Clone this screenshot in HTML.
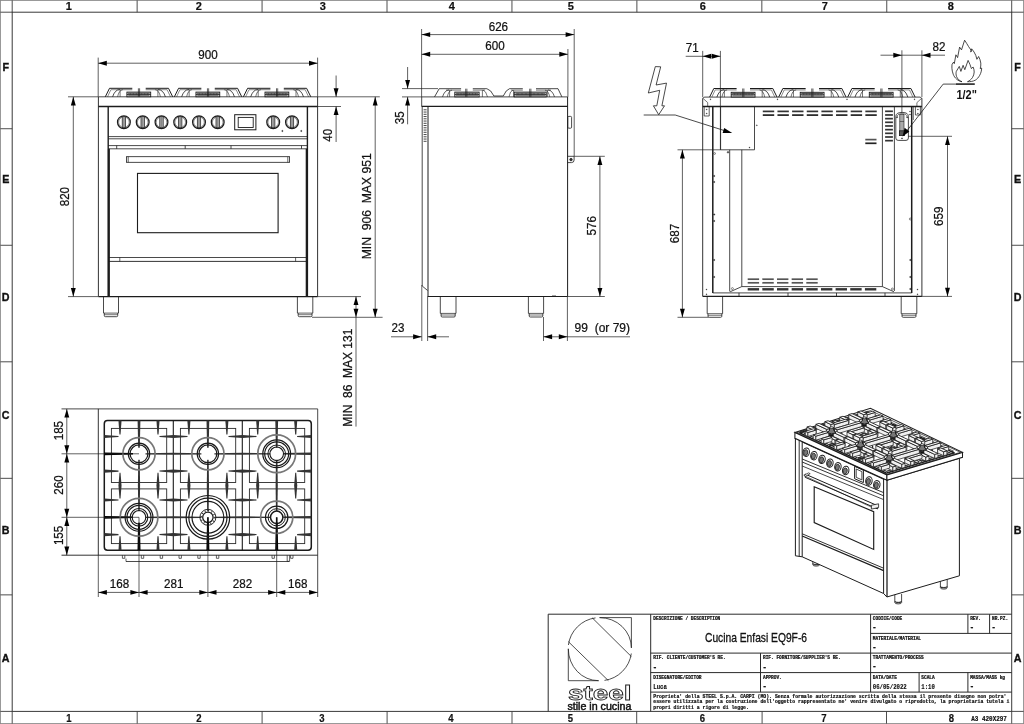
<!DOCTYPE html>
<html lang="it"><head><meta charset="utf-8"><title>Cucina Enfasi EQ9F-6</title>
<style>
html,body{margin:0;padding:0;background:#fff;overflow:hidden}
svg{display:block;will-change:transform}
.ts{font-family:"Liberation Sans",Arial,Helvetica,sans-serif;fill:#111}
.tm{font-family:"Liberation Mono","DejaVu Sans Mono",monospace;fill:#111}
.ns *{vector-effect:non-scaling-stroke}
</style></head><body>
<svg width="1024" height="724" viewBox="0 0 1024 724">
<rect x="0" y="0" width="1024" height="724" fill="#fff"/>
<rect x="0.4" y="0.4" width="1023.2" height="723.2" fill="none" stroke="#888" stroke-width="0.9"/>
<rect x="12.2" y="12.2" width="999.5" height="699.2" fill="none" stroke="#3a3a3a" stroke-width="1"/>
<line x1="137.14" y1="0.4" x2="137.14" y2="12.2" stroke="#3a3a3a" stroke-width="0.9"/>
<line x1="262.07" y1="0.4" x2="262.07" y2="12.2" stroke="#3a3a3a" stroke-width="0.9"/>
<line x1="387.01" y1="0.4" x2="387.01" y2="12.2" stroke="#3a3a3a" stroke-width="0.9"/>
<line x1="511.95" y1="0.4" x2="511.95" y2="12.2" stroke="#3a3a3a" stroke-width="0.9"/>
<line x1="636.89" y1="0.4" x2="636.89" y2="12.2" stroke="#3a3a3a" stroke-width="0.9"/>
<line x1="761.83" y1="0.4" x2="761.83" y2="12.2" stroke="#3a3a3a" stroke-width="0.9"/>
<line x1="886.76" y1="0.4" x2="886.76" y2="12.2" stroke="#3a3a3a" stroke-width="0.9"/>
<line x1="636.7" y1="711.4" x2="636.7" y2="723.6" stroke="#3a3a3a" stroke-width="0.9"/>
<line x1="762.1" y1="711.4" x2="762.1" y2="723.6" stroke="#3a3a3a" stroke-width="0.9"/>
<line x1="886.5" y1="711.4" x2="886.5" y2="723.6" stroke="#3a3a3a" stroke-width="0.9"/>
<line x1="137.2" y1="711.4" x2="137.2" y2="723.6" stroke="#3a3a3a" stroke-width="0.9"/>
<line x1="262.1" y1="711.4" x2="262.1" y2="723.6" stroke="#3a3a3a" stroke-width="0.9"/>
<line x1="387.1" y1="711.4" x2="387.1" y2="723.6" stroke="#3a3a3a" stroke-width="0.9"/>
<line x1="512" y1="711.4" x2="512" y2="723.6" stroke="#3a3a3a" stroke-width="0.9"/>
<line x1="0.4" y1="128.73" x2="12.2" y2="128.73" stroke="#3a3a3a" stroke-width="0.9"/>
<line x1="1011.7" y1="128.73" x2="1023.6" y2="128.73" stroke="#3a3a3a" stroke-width="0.9"/>
<line x1="0.4" y1="245.27" x2="12.2" y2="245.27" stroke="#3a3a3a" stroke-width="0.9"/>
<line x1="1011.7" y1="245.27" x2="1023.6" y2="245.27" stroke="#3a3a3a" stroke-width="0.9"/>
<line x1="0.4" y1="361.8" x2="12.2" y2="361.8" stroke="#3a3a3a" stroke-width="0.9"/>
<line x1="1011.7" y1="361.8" x2="1023.6" y2="361.8" stroke="#3a3a3a" stroke-width="0.9"/>
<line x1="0.4" y1="478.33" x2="12.2" y2="478.33" stroke="#3a3a3a" stroke-width="0.9"/>
<line x1="1011.7" y1="478.33" x2="1023.6" y2="478.33" stroke="#3a3a3a" stroke-width="0.9"/>
<line x1="0.4" y1="594.87" x2="12.2" y2="594.87" stroke="#3a3a3a" stroke-width="0.9"/>
<line x1="1011.7" y1="594.87" x2="1023.6" y2="594.87" stroke="#3a3a3a" stroke-width="0.9"/>
<line x1="0.4" y1="12.2" x2="12.2" y2="12.2" stroke="#3a3a3a" stroke-width="0.9"/>
<line x1="1011.7" y1="12.2" x2="1023.6" y2="12.2" stroke="#3a3a3a" stroke-width="0.9"/>
<line x1="0.4" y1="711.4" x2="12.2" y2="711.4" stroke="#3a3a3a" stroke-width="0.9"/>
<line x1="1011.7" y1="711.4" x2="1023.6" y2="711.4" stroke="#3a3a3a" stroke-width="0.9"/>
<line x1="12.2" y1="0.4" x2="12.2" y2="12.2" stroke="#3a3a3a" stroke-width="0.9"/>
<line x1="1011.7" y1="0.4" x2="1011.7" y2="12.2" stroke="#3a3a3a" stroke-width="0.9"/>
<line x1="12.2" y1="711.4" x2="12.2" y2="723.6" stroke="#3a3a3a" stroke-width="0.9"/>
<line x1="1011.7" y1="711.4" x2="1011.7" y2="723.6" stroke="#3a3a3a" stroke-width="0.9"/>
<text class="ts" x="68.8" y="10" font-size="11" text-anchor="middle" font-weight="bold" stroke="#111" stroke-width="0.2">1</text>
<text class="ts" x="198.8" y="10" font-size="11" text-anchor="middle" font-weight="bold" stroke="#111" stroke-width="0.2">2</text>
<text class="ts" x="322.8" y="10" font-size="11" text-anchor="middle" font-weight="bold" stroke="#111" stroke-width="0.2">3</text>
<text class="ts" x="451.8" y="10" font-size="11" text-anchor="middle" font-weight="bold" stroke="#111" stroke-width="0.2">4</text>
<text class="ts" x="570.8" y="10" font-size="11" text-anchor="middle" font-weight="bold" stroke="#111" stroke-width="0.2">5</text>
<text class="ts" x="702.8" y="10" font-size="11" text-anchor="middle" font-weight="bold" stroke="#111" stroke-width="0.2">6</text>
<text class="ts" x="824.8" y="10" font-size="11" text-anchor="middle" font-weight="bold" stroke="#111" stroke-width="0.2">7</text>
<text class="ts" x="950.8" y="10" font-size="11" text-anchor="middle" font-weight="bold" stroke="#111" stroke-width="0.2">8</text>
<text class="ts" x="69" y="721.7" font-size="10.3" text-anchor="middle" font-weight="bold" textLength="5.3" lengthAdjust="spacingAndGlyphs" stroke="#111" stroke-width="0.2">1</text>
<text class="ts" x="199" y="721.7" font-size="10.3" text-anchor="middle" font-weight="bold" textLength="5.3" lengthAdjust="spacingAndGlyphs" stroke="#111" stroke-width="0.2">2</text>
<text class="ts" x="322" y="721.7" font-size="10.3" text-anchor="middle" font-weight="bold" textLength="5.3" lengthAdjust="spacingAndGlyphs" stroke="#111" stroke-width="0.2">3</text>
<text class="ts" x="451" y="721.7" font-size="10.3" text-anchor="middle" font-weight="bold" textLength="5.3" lengthAdjust="spacingAndGlyphs" stroke="#111" stroke-width="0.2">4</text>
<text class="ts" x="570.3" y="721.7" font-size="10.3" text-anchor="middle" font-weight="bold" textLength="5.3" lengthAdjust="spacingAndGlyphs" stroke="#111" stroke-width="0.2">5</text>
<text class="ts" x="702.5" y="721.7" font-size="10.3" text-anchor="middle" font-weight="bold" textLength="5.3" lengthAdjust="spacingAndGlyphs" stroke="#111" stroke-width="0.2">6</text>
<text class="ts" x="824" y="721.7" font-size="10.3" text-anchor="middle" font-weight="bold" textLength="5.3" lengthAdjust="spacingAndGlyphs" stroke="#111" stroke-width="0.2">7</text>
<text class="ts" x="951.3" y="721.7" font-size="10.3" text-anchor="middle" font-weight="bold" textLength="5.3" lengthAdjust="spacingAndGlyphs" stroke="#111" stroke-width="0.2">8</text>
<text class="ts" x="5.7" y="70.7" font-size="10.7" text-anchor="middle" font-weight="bold" stroke="#111" stroke-width="0.35">F</text>
<text class="ts" x="1017.6" y="70.7" font-size="10.7" text-anchor="middle" font-weight="bold" stroke="#111" stroke-width="0.35">F</text>
<text class="ts" x="5.7" y="182.7" font-size="10.7" text-anchor="middle" font-weight="bold" stroke="#111" stroke-width="0.35">E</text>
<text class="ts" x="1017.6" y="182.7" font-size="10.7" text-anchor="middle" font-weight="bold" stroke="#111" stroke-width="0.35">E</text>
<text class="ts" x="5.7" y="300.7" font-size="10.7" text-anchor="middle" font-weight="bold" stroke="#111" stroke-width="0.35">D</text>
<text class="ts" x="1017.6" y="300.7" font-size="10.7" text-anchor="middle" font-weight="bold" stroke="#111" stroke-width="0.35">D</text>
<text class="ts" x="5.7" y="418.7" font-size="10.7" text-anchor="middle" font-weight="bold" stroke="#111" stroke-width="0.35">C</text>
<text class="ts" x="1017.6" y="418.7" font-size="10.7" text-anchor="middle" font-weight="bold" stroke="#111" stroke-width="0.35">C</text>
<text class="ts" x="5.7" y="533.7" font-size="10.7" text-anchor="middle" font-weight="bold" stroke="#111" stroke-width="0.35">B</text>
<text class="ts" x="1017.6" y="533.7" font-size="10.7" text-anchor="middle" font-weight="bold" stroke="#111" stroke-width="0.35">B</text>
<text class="ts" x="5.7" y="661.7" font-size="10.7" text-anchor="middle" font-weight="bold" stroke="#111" stroke-width="0.35">A</text>
<text class="ts" x="1017.6" y="661.7" font-size="10.7" text-anchor="middle" font-weight="bold" stroke="#111" stroke-width="0.35">A</text>
<text class="tm" x="971.3" y="721.2" font-size="6.6" font-weight="bold" textLength="35.6" lengthAdjust="spacingAndGlyphs" stroke="#111" stroke-width="0.2">A3 420X297</text>
<line x1="98.4" y1="96.8" x2="317.6" y2="96.8" stroke="#1c1c1c" stroke-width="0.8"/>
<line x1="98.4" y1="106.5" x2="317.6" y2="106.5" stroke="#1c1c1c" stroke-width="1.3"/>
<line x1="98.4" y1="96.8" x2="98.4" y2="296.6" stroke="#1c1c1c" stroke-width="0.9"/>
<line x1="317.6" y1="96.8" x2="317.6" y2="296.6" stroke="#1c1c1c" stroke-width="0.9"/>
<line x1="108.2" y1="106.5" x2="108.2" y2="296.6" stroke="#1c1c1c" stroke-width="1.4"/>
<line x1="307.4" y1="106.5" x2="307.4" y2="296.6" stroke="#1c1c1c" stroke-width="1.4"/>
<line x1="108.9" y1="148.8" x2="108.9" y2="296.6" stroke="#1c1c1c" stroke-width="2"/>
<line x1="306.7" y1="148.8" x2="306.7" y2="296.6" stroke="#1c1c1c" stroke-width="2"/>
<line x1="108.2" y1="136.6" x2="307.4" y2="136.6" stroke="#1c1c1c" stroke-width="0.8"/>
<line x1="108.2" y1="138.8" x2="307.4" y2="138.8" stroke="#1c1c1c" stroke-width="0.8"/>
<line x1="108.2" y1="145.6" x2="307.4" y2="145.6" stroke="#1c1c1c" stroke-width="0.8"/>
<line x1="108.2" y1="148.8" x2="307.4" y2="148.8" stroke="#1c1c1c" stroke-width="0.8"/>
<line x1="116.7" y1="145.6" x2="116.7" y2="148.8" stroke="#1c1c1c" stroke-width="0.8"/>
<line x1="185.2" y1="145.6" x2="185.2" y2="148.8" stroke="#1c1c1c" stroke-width="0.8"/>
<line x1="231" y1="145.6" x2="231" y2="148.8" stroke="#1c1c1c" stroke-width="0.8"/>
<line x1="301.5" y1="145.6" x2="301.5" y2="148.8" stroke="#1c1c1c" stroke-width="0.8"/>
<rect x="126.4" y="156.7" width="163.2" height="5.6" fill="none" stroke="#1c1c1c" stroke-width="0.8"/>
<line x1="128.2" y1="156.7" x2="128.2" y2="162.3" stroke="#1c1c1c" stroke-width="0.7"/>
<line x1="287.8" y1="156.7" x2="287.8" y2="162.3" stroke="#1c1c1c" stroke-width="0.7"/>
<rect x="137.5" y="173.4" width="140.6" height="59.3" fill="none" stroke="#1c1c1c" stroke-width="1.1"/>
<line x1="108.2" y1="257.5" x2="307.4" y2="257.5" stroke="#1c1c1c" stroke-width="0.8"/>
<line x1="108.2" y1="261.4" x2="307.4" y2="261.4" stroke="#1c1c1c" stroke-width="0.9"/>
<line x1="119.8" y1="257.5" x2="119.8" y2="261.4" stroke="#1c1c1c" stroke-width="0.7"/>
<line x1="295.6" y1="257.5" x2="295.6" y2="261.4" stroke="#1c1c1c" stroke-width="0.7"/>
<line x1="98.4" y1="296.6" x2="317.6" y2="296.6" stroke="#1c1c1c" stroke-width="1.2"/>
<line x1="103.5" y1="296.6" x2="103.5" y2="313.1" stroke="#1c1c1c" stroke-width="0.8"/>
<line x1="118.5" y1="296.6" x2="118.5" y2="313.1" stroke="#1c1c1c" stroke-width="0.8"/>
<line x1="103.5" y1="313.1" x2="118.5" y2="313.1" stroke="#1c1c1c" stroke-width="0.7"/>
<path d="M104.3 313.1 L104.3 315.7 Q104.3 316.7 105.5 316.7 L116.5 316.7 Q117.7 316.7 117.7 315.7 L117.7 313.1" fill="none" stroke="#1c1c1c" stroke-width="0.8"/>
<line x1="104.3" y1="314.7" x2="117.7" y2="314.7" stroke="#1c1c1c" stroke-width="0.6"/>
<line x1="297.4" y1="296.6" x2="297.4" y2="313.1" stroke="#1c1c1c" stroke-width="0.8"/>
<line x1="312.8" y1="296.6" x2="312.8" y2="313.1" stroke="#1c1c1c" stroke-width="0.8"/>
<line x1="297.4" y1="313.1" x2="312.8" y2="313.1" stroke="#1c1c1c" stroke-width="0.7"/>
<path d="M298.2 313.1 L298.2 315.7 Q298.2 316.7 299.4 316.7 L310.8 316.7 Q312 316.7 312 315.7 L312 313.1" fill="none" stroke="#1c1c1c" stroke-width="0.8"/>
<line x1="298.2" y1="314.7" x2="312" y2="314.7" stroke="#1c1c1c" stroke-width="0.6"/>
<circle cx="123.9" cy="122.2" r="6.4" fill="#fff" stroke="#1c1c1c" stroke-width="1.25"/>
<circle cx="123.9" cy="122.2" r="5.3" fill="none" stroke="#1c1c1c" stroke-width="0.5"/>
<rect x="122.2" y="116.7" width="3.4" height="11" fill="#aaa" stroke="#1c1c1c" stroke-width="0.7"/>
<line x1="123.9" y1="116.8" x2="123.9" y2="127.6" stroke="#666" stroke-width="0.5"/>
<circle cx="142.7" cy="122.2" r="6.4" fill="#fff" stroke="#1c1c1c" stroke-width="1.25"/>
<circle cx="142.7" cy="122.2" r="5.3" fill="none" stroke="#1c1c1c" stroke-width="0.5"/>
<rect x="141" y="116.7" width="3.4" height="11" fill="#aaa" stroke="#1c1c1c" stroke-width="0.7"/>
<line x1="142.7" y1="116.8" x2="142.7" y2="127.6" stroke="#666" stroke-width="0.5"/>
<circle cx="161.5" cy="122.2" r="6.4" fill="#fff" stroke="#1c1c1c" stroke-width="1.25"/>
<circle cx="161.5" cy="122.2" r="5.3" fill="none" stroke="#1c1c1c" stroke-width="0.5"/>
<rect x="159.8" y="116.7" width="3.4" height="11" fill="#aaa" stroke="#1c1c1c" stroke-width="0.7"/>
<line x1="161.5" y1="116.8" x2="161.5" y2="127.6" stroke="#666" stroke-width="0.5"/>
<circle cx="180.2" cy="122.2" r="6.4" fill="#fff" stroke="#1c1c1c" stroke-width="1.25"/>
<circle cx="180.2" cy="122.2" r="5.3" fill="none" stroke="#1c1c1c" stroke-width="0.5"/>
<rect x="178.5" y="116.7" width="3.4" height="11" fill="#aaa" stroke="#1c1c1c" stroke-width="0.7"/>
<line x1="180.2" y1="116.8" x2="180.2" y2="127.6" stroke="#666" stroke-width="0.5"/>
<circle cx="199" cy="122.2" r="6.4" fill="#fff" stroke="#1c1c1c" stroke-width="1.25"/>
<circle cx="199" cy="122.2" r="5.3" fill="none" stroke="#1c1c1c" stroke-width="0.5"/>
<rect x="197.3" y="116.7" width="3.4" height="11" fill="#aaa" stroke="#1c1c1c" stroke-width="0.7"/>
<line x1="199" y1="116.8" x2="199" y2="127.6" stroke="#666" stroke-width="0.5"/>
<circle cx="217.7" cy="122.2" r="6.4" fill="#fff" stroke="#1c1c1c" stroke-width="1.25"/>
<circle cx="217.7" cy="122.2" r="5.3" fill="none" stroke="#1c1c1c" stroke-width="0.5"/>
<rect x="216" y="116.7" width="3.4" height="11" fill="#aaa" stroke="#1c1c1c" stroke-width="0.7"/>
<line x1="217.7" y1="116.8" x2="217.7" y2="127.6" stroke="#666" stroke-width="0.5"/>
<circle cx="273.2" cy="122.2" r="6.4" fill="#fff" stroke="#1c1c1c" stroke-width="1.25"/>
<circle cx="273.2" cy="122.2" r="5.3" fill="none" stroke="#1c1c1c" stroke-width="0.5"/>
<rect x="271.5" y="116.7" width="3.4" height="11" fill="#aaa" stroke="#1c1c1c" stroke-width="0.7"/>
<line x1="273.2" y1="116.8" x2="273.2" y2="127.6" stroke="#666" stroke-width="0.5"/>
<circle cx="292" cy="122.2" r="6.4" fill="#fff" stroke="#1c1c1c" stroke-width="1.25"/>
<circle cx="292" cy="122.2" r="5.3" fill="none" stroke="#1c1c1c" stroke-width="0.5"/>
<rect x="290.3" y="116.7" width="3.4" height="11" fill="#aaa" stroke="#1c1c1c" stroke-width="0.7"/>
<line x1="292" y1="116.8" x2="292" y2="127.6" stroke="#666" stroke-width="0.5"/>
<rect x="234.7" y="114.7" width="21.2" height="15.1" fill="none" stroke="#1c1c1c" stroke-width="1"/>
<rect x="238.2" y="117.4" width="15" height="10.1" fill="none" stroke="#1c1c1c" stroke-width="0.9"/>
<circle cx="282.4" cy="131" r="0.7" fill="#333" stroke="#1c1c1c" stroke-width="0.3"/>
<circle cx="301.3" cy="131" r="0.7" fill="#333" stroke="#1c1c1c" stroke-width="0.3"/>
<path d="M105.3 96.8 L109.5 88.3 L132.3 88.3" fill="none" stroke="#1c1c1c" stroke-width="1"/>
<path d="M172.7 96.8 L168.5 88.3 L145.7 88.3" fill="none" stroke="#1c1c1c" stroke-width="1"/>
<path d="M107.5 96.8 L110.9 89.7 L118.3 89.7" fill="none" stroke="#1c1c1c" stroke-width="0.5"/>
<path d="M170.5 96.8 L167.1 89.7 L159.7 89.7" fill="none" stroke="#1c1c1c" stroke-width="0.5"/>
<line x1="118.3" y1="89.7" x2="132.3" y2="89.7" stroke="#1c1c1c" stroke-width="0.6"/>
<line x1="145.7" y1="89.7" x2="159.7" y2="89.7" stroke="#1c1c1c" stroke-width="0.6"/>
<path d="M119.8 89.5 Q114.8 89.8 112.6 96.8" fill="none" stroke="#1c1c1c" stroke-width="0.8"/>
<path d="M122.8 89.7 Q118.8 90.3 117.6 96.8" fill="none" stroke="#1c1c1c" stroke-width="0.6"/>
<path d="M158.2 89.5 Q163.2 89.8 165.4 96.8" fill="none" stroke="#1c1c1c" stroke-width="0.8"/>
<path d="M155.2 89.7 Q159.2 90.3 160.4 96.8" fill="none" stroke="#1c1c1c" stroke-width="0.6"/>
<line x1="120.1" y1="89.7" x2="120.1" y2="96.8" stroke="#1c1c1c" stroke-width="0.6"/>
<line x1="157.9" y1="89.7" x2="157.9" y2="96.8" stroke="#1c1c1c" stroke-width="0.6"/>
<rect x="126.9" y="92.1" width="23.8" height="4.7" fill="#d8d8d8" stroke="#1c1c1c" stroke-width="0.9"/>
<line x1="127.9" y1="93.3" x2="149.7" y2="93.3" stroke="#1c1c1c" stroke-width="0.7"/>
<line x1="126.9" y1="94.5" x2="150.7" y2="94.5" stroke="#1c1c1c" stroke-width="0.8"/>
<line x1="128.3" y1="95.7" x2="149.3" y2="95.7" stroke="#1c1c1c" stroke-width="0.6"/>
<line x1="130.3" y1="93.3" x2="130.3" y2="94.5" stroke="#1c1c1c" stroke-width="0.5"/>
<line x1="133.3" y1="93.3" x2="133.3" y2="94.5" stroke="#1c1c1c" stroke-width="0.5"/>
<line x1="136.3" y1="93.3" x2="136.3" y2="94.5" stroke="#1c1c1c" stroke-width="0.5"/>
<line x1="141.7" y1="93.3" x2="141.7" y2="94.5" stroke="#1c1c1c" stroke-width="0.5"/>
<line x1="144.7" y1="93.3" x2="144.7" y2="94.5" stroke="#1c1c1c" stroke-width="0.5"/>
<line x1="147.7" y1="93.3" x2="147.7" y2="94.5" stroke="#1c1c1c" stroke-width="0.5"/>
<line x1="138.4" y1="88.3" x2="138.4" y2="96.8" stroke="#1c1c1c" stroke-width="0.7"/>
<line x1="139.6" y1="88.3" x2="139.6" y2="96.8" stroke="#1c1c1c" stroke-width="0.7"/>
<path d="M174.35 96.8 L178.55 88.3 L201.35 88.3" fill="none" stroke="#1c1c1c" stroke-width="1"/>
<path d="M241.75 96.8 L237.55 88.3 L214.75 88.3" fill="none" stroke="#1c1c1c" stroke-width="1"/>
<path d="M176.55 96.8 L179.95 89.7 L187.35 89.7" fill="none" stroke="#1c1c1c" stroke-width="0.5"/>
<path d="M239.55 96.8 L236.15 89.7 L228.75 89.7" fill="none" stroke="#1c1c1c" stroke-width="0.5"/>
<line x1="187.35" y1="89.7" x2="201.35" y2="89.7" stroke="#1c1c1c" stroke-width="0.6"/>
<line x1="214.75" y1="89.7" x2="228.75" y2="89.7" stroke="#1c1c1c" stroke-width="0.6"/>
<path d="M188.85 89.5 Q183.85 89.8 181.65 96.8" fill="none" stroke="#1c1c1c" stroke-width="0.8"/>
<path d="M191.85 89.7 Q187.85 90.3 186.65 96.8" fill="none" stroke="#1c1c1c" stroke-width="0.6"/>
<path d="M227.25 89.5 Q232.25 89.8 234.45 96.8" fill="none" stroke="#1c1c1c" stroke-width="0.8"/>
<path d="M224.25 89.7 Q228.25 90.3 229.45 96.8" fill="none" stroke="#1c1c1c" stroke-width="0.6"/>
<line x1="189.15" y1="89.7" x2="189.15" y2="96.8" stroke="#1c1c1c" stroke-width="0.6"/>
<line x1="226.95" y1="89.7" x2="226.95" y2="96.8" stroke="#1c1c1c" stroke-width="0.6"/>
<rect x="195.95" y="92.1" width="23.8" height="4.7" fill="#d8d8d8" stroke="#1c1c1c" stroke-width="0.9"/>
<line x1="196.95" y1="93.3" x2="218.75" y2="93.3" stroke="#1c1c1c" stroke-width="0.7"/>
<line x1="195.95" y1="94.5" x2="219.75" y2="94.5" stroke="#1c1c1c" stroke-width="0.8"/>
<line x1="197.35" y1="95.7" x2="218.35" y2="95.7" stroke="#1c1c1c" stroke-width="0.6"/>
<line x1="199.35" y1="93.3" x2="199.35" y2="94.5" stroke="#1c1c1c" stroke-width="0.5"/>
<line x1="202.35" y1="93.3" x2="202.35" y2="94.5" stroke="#1c1c1c" stroke-width="0.5"/>
<line x1="205.35" y1="93.3" x2="205.35" y2="94.5" stroke="#1c1c1c" stroke-width="0.5"/>
<line x1="210.75" y1="93.3" x2="210.75" y2="94.5" stroke="#1c1c1c" stroke-width="0.5"/>
<line x1="213.75" y1="93.3" x2="213.75" y2="94.5" stroke="#1c1c1c" stroke-width="0.5"/>
<line x1="216.75" y1="93.3" x2="216.75" y2="94.5" stroke="#1c1c1c" stroke-width="0.5"/>
<line x1="207.45" y1="88.3" x2="207.45" y2="96.8" stroke="#1c1c1c" stroke-width="0.7"/>
<line x1="208.65" y1="88.3" x2="208.65" y2="96.8" stroke="#1c1c1c" stroke-width="0.7"/>
<path d="M243.4 96.8 L247.6 88.3 L270.4 88.3" fill="none" stroke="#1c1c1c" stroke-width="1"/>
<path d="M310.8 96.8 L306.6 88.3 L283.8 88.3" fill="none" stroke="#1c1c1c" stroke-width="1"/>
<path d="M245.6 96.8 L249 89.7 L256.4 89.7" fill="none" stroke="#1c1c1c" stroke-width="0.5"/>
<path d="M308.6 96.8 L305.2 89.7 L297.8 89.7" fill="none" stroke="#1c1c1c" stroke-width="0.5"/>
<line x1="256.4" y1="89.7" x2="270.4" y2="89.7" stroke="#1c1c1c" stroke-width="0.6"/>
<line x1="283.8" y1="89.7" x2="297.8" y2="89.7" stroke="#1c1c1c" stroke-width="0.6"/>
<path d="M257.9 89.5 Q252.9 89.8 250.7 96.8" fill="none" stroke="#1c1c1c" stroke-width="0.8"/>
<path d="M260.9 89.7 Q256.9 90.3 255.7 96.8" fill="none" stroke="#1c1c1c" stroke-width="0.6"/>
<path d="M296.3 89.5 Q301.3 89.8 303.5 96.8" fill="none" stroke="#1c1c1c" stroke-width="0.8"/>
<path d="M293.3 89.7 Q297.3 90.3 298.5 96.8" fill="none" stroke="#1c1c1c" stroke-width="0.6"/>
<line x1="258.2" y1="89.7" x2="258.2" y2="96.8" stroke="#1c1c1c" stroke-width="0.6"/>
<line x1="296" y1="89.7" x2="296" y2="96.8" stroke="#1c1c1c" stroke-width="0.6"/>
<rect x="265" y="92.1" width="23.8" height="4.7" fill="#d8d8d8" stroke="#1c1c1c" stroke-width="0.9"/>
<line x1="266" y1="93.3" x2="287.8" y2="93.3" stroke="#1c1c1c" stroke-width="0.7"/>
<line x1="265" y1="94.5" x2="288.8" y2="94.5" stroke="#1c1c1c" stroke-width="0.8"/>
<line x1="266.4" y1="95.7" x2="287.4" y2="95.7" stroke="#1c1c1c" stroke-width="0.6"/>
<line x1="268.4" y1="93.3" x2="268.4" y2="94.5" stroke="#1c1c1c" stroke-width="0.5"/>
<line x1="271.4" y1="93.3" x2="271.4" y2="94.5" stroke="#1c1c1c" stroke-width="0.5"/>
<line x1="274.4" y1="93.3" x2="274.4" y2="94.5" stroke="#1c1c1c" stroke-width="0.5"/>
<line x1="279.8" y1="93.3" x2="279.8" y2="94.5" stroke="#1c1c1c" stroke-width="0.5"/>
<line x1="282.8" y1="93.3" x2="282.8" y2="94.5" stroke="#1c1c1c" stroke-width="0.5"/>
<line x1="285.8" y1="93.3" x2="285.8" y2="94.5" stroke="#1c1c1c" stroke-width="0.5"/>
<line x1="276.5" y1="88.3" x2="276.5" y2="96.8" stroke="#1c1c1c" stroke-width="0.7"/>
<line x1="277.7" y1="88.3" x2="277.7" y2="96.8" stroke="#1c1c1c" stroke-width="0.7"/>
<line x1="98.2" y1="57.6" x2="98.2" y2="96.8" stroke="#1c1c1c" stroke-width="0.7"/>
<line x1="317.6" y1="57.6" x2="317.6" y2="96.8" stroke="#1c1c1c" stroke-width="0.7"/>
<line x1="98.2" y1="63.2" x2="317.6" y2="63.2" stroke="#1c1c1c" stroke-width="0.7"/>
<polygon points="98.2,63.2 106.8,60.75 106.8,65.65" fill="#000"/>
<polygon points="317.6,63.2 309,60.75 309,65.65" fill="#000"/>
<text class="ts" transform="translate(208 59.3) scale(0.9 1)" font-size="12.9" text-anchor="middle" stroke="#111" stroke-width="0.25">900</text>
<line x1="68" y1="96.8" x2="98.2" y2="96.8" stroke="#1c1c1c" stroke-width="0.7"/>
<line x1="68" y1="296.6" x2="98.2" y2="296.6" stroke="#1c1c1c" stroke-width="0.7"/>
<line x1="73.3" y1="96.8" x2="73.3" y2="296.6" stroke="#1c1c1c" stroke-width="0.7"/>
<polygon points="73.3,96.8 70.85,105.4 75.75,105.4" fill="#000"/>
<polygon points="73.3,296.6 70.85,288 75.75,288" fill="#000"/>
<text class="ts" transform="translate(69.4 196.6) rotate(-90) scale(0.9 1)" font-size="12.9" text-anchor="middle" stroke="#111" stroke-width="0.25">820</text>
<line x1="317.6" y1="96.8" x2="379.8" y2="96.8" stroke="#1c1c1c" stroke-width="0.7"/>
<line x1="317.6" y1="106.5" x2="341" y2="106.5" stroke="#1c1c1c" stroke-width="0.7"/>
<line x1="336.1" y1="75.5" x2="336.1" y2="96.8" stroke="#1c1c1c" stroke-width="0.7"/>
<line x1="336.1" y1="106.5" x2="336.1" y2="142" stroke="#1c1c1c" stroke-width="0.7"/>
<polygon points="336.1,96.8 333.65,88.2 338.55,88.2" fill="#000"/>
<polygon points="336.1,106.5 333.65,115.1 338.55,115.1" fill="#000"/>
<text class="ts" transform="translate(332.3 135.3) rotate(-90) scale(0.9 1)" font-size="12.9" text-anchor="middle" stroke="#111" stroke-width="0.25">40</text>
<line x1="375.2" y1="96.8" x2="375.2" y2="317.3" stroke="#1c1c1c" stroke-width="0.7"/>
<polygon points="375.2,96.8 372.75,105.4 377.65,105.4" fill="#000"/>
<polygon points="375.2,317.3 372.75,308.7 377.65,308.7" fill="#000"/>
<text class="ts" transform="translate(371 206.3) rotate(-90) scale(0.9 1)" font-size="12.9" text-anchor="middle" textLength="117.78" lengthAdjust="spacingAndGlyphs" stroke="#111" stroke-width="0.25">MIN&#160; 906&#160; MAX 951</text>
<line x1="317.6" y1="296.6" x2="361" y2="296.6" stroke="#1c1c1c" stroke-width="0.7"/>
<line x1="312" y1="317.3" x2="382.6" y2="317.3" stroke="#1c1c1c" stroke-width="0.7"/>
<line x1="356" y1="296.4" x2="356" y2="426.6" stroke="#1c1c1c" stroke-width="0.7"/>
<polygon points="356,296.4 353.55,305 358.45,305" fill="#000"/>
<polygon points="356,317.3 353.55,308.7 358.45,308.7" fill="#000"/>
<text class="ts" transform="translate(352.1 377.7) rotate(-90) scale(0.9 1)" font-size="12.9" text-anchor="middle" textLength="108.89" lengthAdjust="spacingAndGlyphs" stroke="#111" stroke-width="0.25">MIN&#160; 86&#160; MAX 131</text>
<line x1="421.6" y1="96.9" x2="567.6" y2="96.9" stroke="#1c1c1c" stroke-width="0.8"/>
<line x1="421.6" y1="106.4" x2="567.6" y2="106.4" stroke="#1c1c1c" stroke-width="1.3"/>
<line x1="421.7" y1="96.9" x2="421.7" y2="106.4" stroke="#1c1c1c" stroke-width="0.8"/>
<line x1="567.6" y1="96.9" x2="567.6" y2="296.5" stroke="#1c1c1c" stroke-width="1"/>
<path d="M422.2 106.4 L422.2 286 L427.6 290.5" fill="none" stroke="#1c1c1c" stroke-width="0.8"/>
<line x1="428" y1="106.4" x2="428" y2="296.5" stroke="#1c1c1c" stroke-width="1"/>
<line x1="427.6" y1="296.5" x2="567.6" y2="296.5" stroke="#1c1c1c" stroke-width="1"/>
<line x1="423.6" y1="109.8" x2="426.6" y2="109.8" stroke="#333" stroke-width="0.9"/>
<line x1="423.6" y1="112.05" x2="426.6" y2="112.05" stroke="#333" stroke-width="0.9"/>
<line x1="423.6" y1="114.3" x2="426.6" y2="114.3" stroke="#333" stroke-width="0.9"/>
<line x1="423.6" y1="116.55" x2="426.6" y2="116.55" stroke="#333" stroke-width="0.9"/>
<line x1="423.6" y1="118.8" x2="426.6" y2="118.8" stroke="#333" stroke-width="0.9"/>
<line x1="423.6" y1="121.05" x2="426.6" y2="121.05" stroke="#333" stroke-width="0.9"/>
<line x1="423.6" y1="123.3" x2="426.6" y2="123.3" stroke="#333" stroke-width="0.9"/>
<line x1="423.6" y1="125.55" x2="426.6" y2="125.55" stroke="#333" stroke-width="0.9"/>
<line x1="423.6" y1="127.8" x2="426.6" y2="127.8" stroke="#333" stroke-width="0.9"/>
<line x1="423.6" y1="130.05" x2="426.6" y2="130.05" stroke="#333" stroke-width="0.9"/>
<line x1="423.6" y1="132.3" x2="426.6" y2="132.3" stroke="#333" stroke-width="0.9"/>
<line x1="423.6" y1="134.55" x2="426.6" y2="134.55" stroke="#333" stroke-width="0.9"/>
<line x1="423.6" y1="136.8" x2="426.6" y2="136.8" stroke="#333" stroke-width="0.9"/>
<line x1="423.6" y1="139.05" x2="426.6" y2="139.05" stroke="#333" stroke-width="0.9"/>
<line x1="423.6" y1="141.3" x2="426.6" y2="141.3" stroke="#333" stroke-width="0.9"/>
<rect x="567.8" y="116.4" width="3.8" height="11.8" rx="1" fill="none" stroke="#1c1c1c" stroke-width="0.8"/>
<path d="M567.6 156.3 L574.1 156.3 L574.1 160 Q574.1 162.6 571.5 162.6 L567.6 162.6" fill="none" stroke="#1c1c1c" stroke-width="0.8"/>
<circle cx="571" cy="159.6" r="1.3" fill="#333" stroke="#1c1c1c" stroke-width="0.6"/>
<line x1="440.3" y1="296.5" x2="440.3" y2="313.4" stroke="#1c1c1c" stroke-width="0.8"/>
<line x1="456" y1="296.5" x2="456" y2="313.4" stroke="#1c1c1c" stroke-width="0.8"/>
<line x1="440.3" y1="313.4" x2="456" y2="313.4" stroke="#1c1c1c" stroke-width="0.7"/>
<path d="M441.1 313.4 L441.1 316 Q441.1 317 442.3 317 L454 317 Q455.2 317 455.2 316 L455.2 313.4" fill="none" stroke="#1c1c1c" stroke-width="0.8"/>
<line x1="441.1" y1="315" x2="455.2" y2="315" stroke="#1c1c1c" stroke-width="0.6"/>
<line x1="528.4" y1="296.5" x2="528.4" y2="313.4" stroke="#1c1c1c" stroke-width="0.8"/>
<line x1="543.6" y1="296.5" x2="543.6" y2="313.4" stroke="#1c1c1c" stroke-width="0.8"/>
<line x1="528.4" y1="313.4" x2="543.6" y2="313.4" stroke="#1c1c1c" stroke-width="0.7"/>
<path d="M529.2 313.4 L529.2 316 Q529.2 317 530.4 317 L541.6 317 Q542.8 317 542.8 316 L542.8 313.4" fill="none" stroke="#1c1c1c" stroke-width="0.8"/>
<line x1="529.2" y1="315" x2="542.8" y2="315" stroke="#1c1c1c" stroke-width="0.6"/>
<line x1="552" y1="296" x2="556" y2="296" stroke="#1c1c1c" stroke-width="0.8"/>
<path d="M434.5 96.9 L439.2 88.7 L461.1 88.7" fill="none" stroke="#1c1c1c" stroke-width="0.8"/>
<line x1="446" y1="90.1" x2="461.1" y2="90.1" stroke="#1c1c1c" stroke-width="0.6"/>
<path d="M449 89.9 Q444.5 90.3 442.5 96.9" fill="none" stroke="#1c1c1c" stroke-width="0.7"/>
<path d="M452 90.10000000000001 Q448.5 90.7 447.3 96.9" fill="none" stroke="#1c1c1c" stroke-width="0.6"/>
<line x1="449.6" y1="90.1" x2="449.6" y2="96.9" stroke="#1c1c1c" stroke-width="0.6"/>
<rect x="454.8" y="92.1" width="24.3" height="4.8" fill="#d8d8d8" stroke="#1c1c1c" stroke-width="0.9"/>
<line x1="456" y1="93.3" x2="478" y2="93.3" stroke="#1c1c1c" stroke-width="0.7"/>
<line x1="454.8" y1="94.5" x2="479.1" y2="94.5" stroke="#1c1c1c" stroke-width="0.8"/>
<line x1="456" y1="95.7" x2="478" y2="95.7" stroke="#1c1c1c" stroke-width="0.6"/>
<line x1="458" y1="93.3" x2="458" y2="94.5" stroke="#1c1c1c" stroke-width="0.5"/>
<line x1="461" y1="93.3" x2="461" y2="94.5" stroke="#1c1c1c" stroke-width="0.5"/>
<line x1="464" y1="93.3" x2="464" y2="94.5" stroke="#1c1c1c" stroke-width="0.5"/>
<line x1="469.5" y1="93.3" x2="469.5" y2="94.5" stroke="#1c1c1c" stroke-width="0.5"/>
<line x1="472.5" y1="93.3" x2="472.5" y2="94.5" stroke="#1c1c1c" stroke-width="0.5"/>
<line x1="475.5" y1="93.3" x2="475.5" y2="94.5" stroke="#1c1c1c" stroke-width="0.5"/>
<line x1="465.7" y1="88.7" x2="465.7" y2="96.9" stroke="#1c1c1c" stroke-width="0.7"/>
<line x1="466.9" y1="88.7" x2="466.9" y2="96.9" stroke="#1c1c1c" stroke-width="0.7"/>
<line x1="472.8" y1="88.7" x2="486.9" y2="88.7" stroke="#1c1c1c" stroke-width="0.8"/>
<line x1="472.8" y1="90.1" x2="485" y2="90.1" stroke="#1c1c1c" stroke-width="0.6"/>
<path d="M486.9 88.7 Q491 89.7 493.9 96.0 L503.3 96.0 Q506 89.7 509.5 88.7 L522.8 88.7" fill="none" stroke="#1c1c1c" stroke-width="0.8"/>
<path d="M483 90.10000000000001 Q486 90.7 487.5 96.9" fill="none" stroke="#1c1c1c" stroke-width="0.6"/>
<line x1="482.4" y1="90.1" x2="482.4" y2="96.9" stroke="#1c1c1c" stroke-width="0.6"/>
<line x1="511" y1="90.1" x2="522.8" y2="90.1" stroke="#1c1c1c" stroke-width="0.6"/>
<path d="M513 90.10000000000001 Q510 90.7 509 96.9" fill="none" stroke="#1c1c1c" stroke-width="0.6"/>
<line x1="513.6" y1="90.1" x2="513.6" y2="96.9" stroke="#1c1c1c" stroke-width="0.6"/>
<rect x="514.2" y="92.1" width="32" height="4.8" fill="#d8d8d8" stroke="#1c1c1c" stroke-width="0.9"/>
<line x1="515.5" y1="93.3" x2="545" y2="93.3" stroke="#1c1c1c" stroke-width="0.7"/>
<line x1="514.2" y1="94.5" x2="546.2" y2="94.5" stroke="#1c1c1c" stroke-width="0.8"/>
<line x1="515.5" y1="95.7" x2="545" y2="95.7" stroke="#1c1c1c" stroke-width="0.6"/>
<line x1="518" y1="93.3" x2="518" y2="94.5" stroke="#1c1c1c" stroke-width="0.5"/>
<line x1="522" y1="93.3" x2="522" y2="94.5" stroke="#1c1c1c" stroke-width="0.5"/>
<line x1="526" y1="93.3" x2="526" y2="94.5" stroke="#1c1c1c" stroke-width="0.5"/>
<line x1="534" y1="93.3" x2="534" y2="94.5" stroke="#1c1c1c" stroke-width="0.5"/>
<line x1="538" y1="93.3" x2="538" y2="94.5" stroke="#1c1c1c" stroke-width="0.5"/>
<line x1="542" y1="93.3" x2="542" y2="94.5" stroke="#1c1c1c" stroke-width="0.5"/>
<line x1="529.7" y1="88.7" x2="529.7" y2="96.9" stroke="#1c1c1c" stroke-width="0.7"/>
<line x1="530.9" y1="88.7" x2="530.9" y2="96.9" stroke="#1c1c1c" stroke-width="0.7"/>
<path d="M561.9 96.9 L558 88.7 L536 88.7" fill="none" stroke="#1c1c1c" stroke-width="0.8"/>
<line x1="536" y1="90.1" x2="551" y2="90.1" stroke="#1c1c1c" stroke-width="0.6"/>
<path d="M548 89.9 Q552.5 90.3 554.5 96.9" fill="none" stroke="#1c1c1c" stroke-width="0.7"/>
<path d="M545 90.10000000000001 Q548.5 90.7 549.7 96.9" fill="none" stroke="#1c1c1c" stroke-width="0.6"/>
<line x1="547.4" y1="90.1" x2="547.4" y2="96.9" stroke="#1c1c1c" stroke-width="0.6"/>
<line x1="421.6" y1="29" x2="421.6" y2="96.9" stroke="#1c1c1c" stroke-width="0.7"/>
<line x1="574.2" y1="29" x2="574.2" y2="156.3" stroke="#1c1c1c" stroke-width="0.7"/>
<line x1="421.6" y1="34.6" x2="574.2" y2="34.6" stroke="#1c1c1c" stroke-width="0.7"/>
<polygon points="421.6,34.6 430.2,32.15 430.2,37.05" fill="#000"/>
<polygon points="574.2,34.6 565.6,32.15 565.6,37.05" fill="#000"/>
<text class="ts" transform="translate(498.4 30.6) scale(0.9 1)" font-size="12.9" text-anchor="middle" stroke="#111" stroke-width="0.25">626</text>
<line x1="567.9" y1="49" x2="567.9" y2="96.9" stroke="#1c1c1c" stroke-width="0.7"/>
<line x1="421.6" y1="54.3" x2="567.9" y2="54.3" stroke="#1c1c1c" stroke-width="0.7"/>
<polygon points="421.6,54.3 430.2,51.85 430.2,56.75" fill="#000"/>
<polygon points="567.9,54.3 559.3,51.85 559.3,56.75" fill="#000"/>
<text class="ts" transform="translate(495 50.2) scale(0.9 1)" font-size="12.9" text-anchor="middle" stroke="#111" stroke-width="0.25">600</text>
<line x1="402" y1="88.6" x2="438" y2="88.6" stroke="#1c1c1c" stroke-width="0.7"/>
<line x1="402" y1="96.9" x2="421.6" y2="96.9" stroke="#1c1c1c" stroke-width="0.7"/>
<line x1="407.6" y1="67" x2="407.6" y2="88.6" stroke="#1c1c1c" stroke-width="0.7"/>
<line x1="407.6" y1="96.9" x2="407.6" y2="124.3" stroke="#1c1c1c" stroke-width="0.7"/>
<polygon points="407.6,88.6 405.15,80 410.05,80" fill="#000"/>
<polygon points="407.6,96.9 405.15,105.5 410.05,105.5" fill="#000"/>
<text class="ts" transform="translate(403.6 117.8) rotate(-90) scale(0.9 1)" font-size="12.9" text-anchor="middle" stroke="#111" stroke-width="0.25">35</text>
<line x1="421.8" y1="285" x2="421.8" y2="341" stroke="#1c1c1c" stroke-width="0.7"/>
<line x1="427.6" y1="296.5" x2="427.6" y2="341" stroke="#1c1c1c" stroke-width="0.7"/>
<line x1="391" y1="336.8" x2="421.7" y2="336.8" stroke="#1c1c1c" stroke-width="0.7"/>
<line x1="427.6" y1="336.8" x2="449" y2="336.8" stroke="#1c1c1c" stroke-width="0.7"/>
<polygon points="421.7,336.8 413.1,334.35 413.1,339.25" fill="#000"/>
<polygon points="427.6,336.8 436.2,334.35 436.2,339.25" fill="#000"/>
<text class="ts" transform="translate(398 332.4) scale(0.9 1)" font-size="12.9" text-anchor="middle" stroke="#111" stroke-width="0.25">23</text>
<line x1="543.5" y1="317" x2="543.5" y2="341" stroke="#1c1c1c" stroke-width="0.7"/>
<line x1="567.4" y1="296.5" x2="567.4" y2="341" stroke="#1c1c1c" stroke-width="0.7"/>
<line x1="543.5" y1="336.8" x2="630" y2="336.8" stroke="#1c1c1c" stroke-width="0.7"/>
<polygon points="543.5,336.8 552.1,334.35 552.1,339.25" fill="#000"/>
<polygon points="567.4,336.8 558.8,334.35 558.8,339.25" fill="#000"/>
<text class="ts" transform="translate(574.6 332.4) scale(0.9 1)" font-size="12.9" textLength="61.56" lengthAdjust="spacingAndGlyphs" stroke="#111" stroke-width="0.25">99&#160; (or 79)</text>
<line x1="574.1" y1="156.3" x2="604.8" y2="156.3" stroke="#1c1c1c" stroke-width="0.7"/>
<line x1="567.6" y1="296.5" x2="604.8" y2="296.5" stroke="#1c1c1c" stroke-width="0.7"/>
<line x1="599.9" y1="156.3" x2="599.9" y2="296.5" stroke="#1c1c1c" stroke-width="0.7"/>
<polygon points="599.9,156.3 597.45,164.9 602.35,164.9" fill="#000"/>
<polygon points="599.9,296.5 597.45,287.9 602.35,287.9" fill="#000"/>
<text class="ts" transform="translate(596.3 225.8) rotate(-90) scale(0.9 1)" font-size="12.9" text-anchor="middle" stroke="#111" stroke-width="0.25">576</text>
<line x1="704.2" y1="97.1" x2="920.4" y2="97.1" stroke="#1c1c1c" stroke-width="0.8"/>
<line x1="702.7" y1="106.5" x2="921.9" y2="106.5" stroke="#1c1c1c" stroke-width="1.3"/>
<path d="M702.7 296.4 L702.7 98.6 L704.2 97.1" fill="none" stroke="#1c1c1c" stroke-width="0.9"/>
<path d="M921.9 296.4 L921.9 98.6 L920.4 97.1" fill="none" stroke="#1c1c1c" stroke-width="0.9"/>
<path d="M702.7 98.1 L707.7 102.6 L707.7 106.5" fill="none" stroke="#1c1c1c" stroke-width="0.6"/>
<path d="M921.9 98.1 L916.9 102.6 L916.9 106.5" fill="none" stroke="#1c1c1c" stroke-width="0.6"/>
<path d="M704.2 106.5 L704.2 116 L709.2 116 L709.2 106.5" fill="none" stroke="#1c1c1c" stroke-width="0.7"/>
<path d="M920.4 106.5 L920.4 115 L915.4 115 L915.4 106.5" fill="none" stroke="#1c1c1c" stroke-width="0.7"/>
<circle cx="706.7" cy="109.5" r="0.5" fill="#333" stroke="#1c1c1c" stroke-width="0.3"/>
<circle cx="917.9" cy="109.5" r="0.5" fill="#333" stroke="#1c1c1c" stroke-width="0.3"/>
<circle cx="706.7" cy="113.5" r="0.5" fill="#333" stroke="#1c1c1c" stroke-width="0.3"/>
<circle cx="917.9" cy="113.5" r="0.5" fill="#333" stroke="#1c1c1c" stroke-width="0.3"/>
<circle cx="710.5" cy="99.3" r="0.5" fill="#333" stroke="#1c1c1c" stroke-width="0.3"/>
<circle cx="777.5" cy="99.3" r="0.5" fill="#333" stroke="#1c1c1c" stroke-width="0.3"/>
<circle cx="847" cy="99.3" r="0.5" fill="#333" stroke="#1c1c1c" stroke-width="0.3"/>
<circle cx="914.5" cy="99.3" r="0.5" fill="#333" stroke="#1c1c1c" stroke-width="0.3"/>
<line x1="712.8" y1="106.5" x2="712.8" y2="293" stroke="#1c1c1c" stroke-width="1.5"/>
<line x1="720.6" y1="106.5" x2="720.6" y2="149.8" stroke="#1c1c1c" stroke-width="0.8"/>
<line x1="729.7" y1="149.8" x2="729.7" y2="291" stroke="#1c1c1c" stroke-width="0.8"/>
<line x1="741.8" y1="149.8" x2="741.8" y2="286.6" stroke="#1c1c1c" stroke-width="0.8"/>
<path d="M720.6 149.8 L754.5 149.8 L754.5 106.5" fill="none" stroke="#1c1c1c" stroke-width="0.8"/>
<circle cx="756.8" cy="125.3" r="0.5" fill="#333" stroke="#1c1c1c" stroke-width="0.3"/>
<circle cx="749.5" cy="147.6" r="0.5" fill="#333" stroke="#1c1c1c" stroke-width="0.3"/>
<circle cx="714.6" cy="153.5" r="0.9" fill="none" stroke="#1c1c1c" stroke-width="0.5"/>
<circle cx="728" cy="152.3" r="0.8" fill="#555" stroke="#1c1c1c" stroke-width="0.5"/>
<line x1="882.4" y1="106.5" x2="882.4" y2="286.6" stroke="#1c1c1c" stroke-width="0.8"/>
<line x1="894.4" y1="106.5" x2="894.4" y2="291" stroke="#1c1c1c" stroke-width="0.8"/>
<line x1="911.7" y1="106.5" x2="911.7" y2="293" stroke="#1c1c1c" stroke-width="1.5"/>
<line x1="913.4" y1="106.5" x2="913.4" y2="120" stroke="#1c1c1c" stroke-width="0.6"/>
<circle cx="714.2" cy="176" r="0.7" fill="#222" stroke="#1c1c1c" stroke-width="0.3"/>
<circle cx="714.2" cy="182" r="0.7" fill="#222" stroke="#1c1c1c" stroke-width="0.3"/>
<circle cx="714.2" cy="214.5" r="0.7" fill="#222" stroke="#1c1c1c" stroke-width="0.3"/>
<circle cx="714.2" cy="221" r="0.7" fill="#222" stroke="#1c1c1c" stroke-width="0.3"/>
<circle cx="714.2" cy="260" r="0.7" fill="#222" stroke="#1c1c1c" stroke-width="0.3"/>
<circle cx="714.2" cy="277" r="0.7" fill="#222" stroke="#1c1c1c" stroke-width="0.3"/>
<circle cx="910.3" cy="260" r="0.7" fill="#222" stroke="#1c1c1c" stroke-width="0.3"/>
<circle cx="910.3" cy="277" r="0.7" fill="#222" stroke="#1c1c1c" stroke-width="0.3"/>
<circle cx="910.3" cy="289" r="0.7" fill="#222" stroke="#1c1c1c" stroke-width="0.3"/>
<circle cx="910.3" cy="219" r="1" fill="none" stroke="#1c1c1c" stroke-width="0.5"/>
<line x1="702.7" y1="296.4" x2="921.9" y2="296.4" stroke="#1c1c1c" stroke-width="1.4"/>
<line x1="712.8" y1="292.9" x2="911.7" y2="292.9" stroke="#1c1c1c" stroke-width="0.8"/>
<path d="M729.7 291 L730.5 292 M730.5 291.6 L741.8 286.6 L882.4 286.6 L894 291.8" fill="none" stroke="#1c1c1c" stroke-width="0.8"/>
<line x1="739" y1="292.9" x2="739" y2="296.4" stroke="#1c1c1c" stroke-width="0.8"/>
<line x1="788" y1="292.9" x2="788" y2="296.4" stroke="#1c1c1c" stroke-width="0.8"/>
<line x1="836.5" y1="292.9" x2="836.5" y2="296.4" stroke="#1c1c1c" stroke-width="0.8"/>
<line x1="885" y1="292.9" x2="885" y2="296.4" stroke="#1c1c1c" stroke-width="0.8"/>
<circle cx="732.4" cy="288.6" r="1" fill="none" stroke="#1c1c1c" stroke-width="0.5"/>
<circle cx="892.4" cy="289" r="1" fill="none" stroke="#1c1c1c" stroke-width="0.5"/>
<circle cx="706.5" cy="289.5" r="0.5" fill="#333" stroke="#1c1c1c" stroke-width="0.3"/>
<circle cx="706.5" cy="294.3" r="0.5" fill="#333" stroke="#1c1c1c" stroke-width="0.3"/>
<circle cx="917.5" cy="289.5" r="0.5" fill="#333" stroke="#1c1c1c" stroke-width="0.3"/>
<circle cx="917.5" cy="294.3" r="0.5" fill="#333" stroke="#1c1c1c" stroke-width="0.3"/>
<line x1="707.2" y1="296.4" x2="707.2" y2="313.7" stroke="#1c1c1c" stroke-width="0.8"/>
<line x1="722.6" y1="296.4" x2="722.6" y2="313.7" stroke="#1c1c1c" stroke-width="0.8"/>
<line x1="707.2" y1="313.7" x2="722.6" y2="313.7" stroke="#1c1c1c" stroke-width="0.7"/>
<path d="M708 313.7 L708 316.3 Q708 317.3 709.2 317.3 L720.6 317.3 Q721.8 317.3 721.8 316.3 L721.8 313.7" fill="none" stroke="#1c1c1c" stroke-width="0.8"/>
<line x1="708" y1="315.3" x2="721.8" y2="315.3" stroke="#1c1c1c" stroke-width="0.6"/>
<line x1="901.2" y1="296.4" x2="901.2" y2="313.7" stroke="#1c1c1c" stroke-width="0.8"/>
<line x1="916.8" y1="296.4" x2="916.8" y2="313.7" stroke="#1c1c1c" stroke-width="0.8"/>
<line x1="901.2" y1="313.7" x2="916.8" y2="313.7" stroke="#1c1c1c" stroke-width="0.7"/>
<path d="M902 313.7 L902 316.3 Q902 317.3 903.2 317.3 L914.8 317.3 Q916 317.3 916 316.3 L916 313.7" fill="none" stroke="#1c1c1c" stroke-width="0.8"/>
<line x1="902" y1="315.3" x2="916" y2="315.3" stroke="#1c1c1c" stroke-width="0.6"/>
<line x1="762.8" y1="111.4" x2="774.2" y2="111.4" stroke="#333" stroke-width="1.7"/>
<line x1="777.45" y1="111.4" x2="788.85" y2="111.4" stroke="#333" stroke-width="1.7"/>
<line x1="792.1" y1="111.4" x2="803.5" y2="111.4" stroke="#333" stroke-width="1.7"/>
<line x1="806.75" y1="111.4" x2="818.15" y2="111.4" stroke="#333" stroke-width="1.7"/>
<line x1="821.4" y1="111.4" x2="832.8" y2="111.4" stroke="#333" stroke-width="1.7"/>
<line x1="836.05" y1="111.4" x2="847.45" y2="111.4" stroke="#333" stroke-width="1.7"/>
<line x1="850.7" y1="111.4" x2="862.1" y2="111.4" stroke="#333" stroke-width="1.7"/>
<line x1="865.35" y1="111.4" x2="876.75" y2="111.4" stroke="#333" stroke-width="1.7"/>
<line x1="762.8" y1="115.1" x2="774.2" y2="115.1" stroke="#222" stroke-width="1.7"/>
<line x1="777.45" y1="115.1" x2="788.85" y2="115.1" stroke="#222" stroke-width="1.7"/>
<line x1="792.1" y1="115.1" x2="803.5" y2="115.1" stroke="#222" stroke-width="1.7"/>
<line x1="806.75" y1="115.1" x2="818.15" y2="115.1" stroke="#222" stroke-width="1.7"/>
<line x1="821.4" y1="115.1" x2="832.8" y2="115.1" stroke="#222" stroke-width="1.7"/>
<line x1="836.05" y1="115.1" x2="847.45" y2="115.1" stroke="#222" stroke-width="1.7"/>
<line x1="850.7" y1="115.1" x2="862.1" y2="115.1" stroke="#222" stroke-width="1.7"/>
<line x1="865.35" y1="115.1" x2="876.75" y2="115.1" stroke="#222" stroke-width="1.7"/>
<line x1="865.3" y1="139.6" x2="876.5" y2="139.6" stroke="#555" stroke-width="1.7"/>
<line x1="865.3" y1="143.3" x2="876.5" y2="143.3" stroke="#222" stroke-width="1.7"/>
<line x1="885.1" y1="111.3" x2="892.9" y2="111.3" stroke="#333" stroke-width="1.7"/>
<line x1="885.1" y1="114.97" x2="892.9" y2="114.97" stroke="#333" stroke-width="1.7"/>
<line x1="885.1" y1="118.64" x2="892.9" y2="118.64" stroke="#333" stroke-width="1.7"/>
<line x1="885.1" y1="122.31" x2="892.9" y2="122.31" stroke="#333" stroke-width="1.7"/>
<line x1="885.1" y1="125.98" x2="892.9" y2="125.98" stroke="#333" stroke-width="1.7"/>
<line x1="885.1" y1="129.65" x2="892.9" y2="129.65" stroke="#333" stroke-width="1.7"/>
<line x1="885.1" y1="133.32" x2="892.9" y2="133.32" stroke="#333" stroke-width="1.7"/>
<line x1="885.1" y1="136.99" x2="892.9" y2="136.99" stroke="#333" stroke-width="1.7"/>
<line x1="885.1" y1="140.66" x2="892.9" y2="140.66" stroke="#333" stroke-width="1.7"/>
<line x1="747.7" y1="279.2" x2="759.1" y2="279.2" stroke="#555" stroke-width="1.7"/>
<line x1="762.35" y1="279.2" x2="773.75" y2="279.2" stroke="#555" stroke-width="1.7"/>
<line x1="777" y1="279.2" x2="788.4" y2="279.2" stroke="#555" stroke-width="1.7"/>
<line x1="791.65" y1="279.2" x2="803.05" y2="279.2" stroke="#555" stroke-width="1.7"/>
<line x1="806.3" y1="279.2" x2="817.7" y2="279.2" stroke="#555" stroke-width="1.7"/>
<line x1="747.7" y1="282.8" x2="759.1" y2="282.8" stroke="#555" stroke-width="1.7"/>
<line x1="762.35" y1="282.8" x2="773.75" y2="282.8" stroke="#555" stroke-width="1.7"/>
<line x1="777" y1="282.8" x2="788.4" y2="282.8" stroke="#555" stroke-width="1.7"/>
<line x1="791.65" y1="282.8" x2="803.05" y2="282.8" stroke="#555" stroke-width="1.7"/>
<line x1="806.3" y1="282.8" x2="817.7" y2="282.8" stroke="#555" stroke-width="1.7"/>
<line x1="747.7" y1="289.3" x2="759.1" y2="289.3" stroke="#333" stroke-width="2.4"/>
<line x1="762.35" y1="289.3" x2="773.75" y2="289.3" stroke="#333" stroke-width="2.4"/>
<line x1="777" y1="289.3" x2="788.4" y2="289.3" stroke="#333" stroke-width="2.4"/>
<line x1="791.65" y1="289.3" x2="803.05" y2="289.3" stroke="#333" stroke-width="2.4"/>
<line x1="806.3" y1="289.3" x2="817.7" y2="289.3" stroke="#333" stroke-width="2.4"/>
<line x1="820.95" y1="289.3" x2="832.35" y2="289.3" stroke="#333" stroke-width="2.4"/>
<line x1="835.6" y1="289.3" x2="847" y2="289.3" stroke="#333" stroke-width="2.4"/>
<line x1="850.25" y1="289.3" x2="861.65" y2="289.3" stroke="#333" stroke-width="2.4"/>
<line x1="864.9" y1="289.3" x2="876.3" y2="289.3" stroke="#333" stroke-width="2.4"/>
<path d="M895.8 116.5 Q895.8 112.4 902.1 112.4 Q908.4 112.4 908.4 116.5 L908.4 138 Q908.4 140.4 906 140.4 L898.2 140.4 Q895.8 140.4 895.8 138 Z" fill="none" stroke="#1c1c1c" stroke-width="0.8"/>
<path d="M897 117.5 Q897 113.6 902.1 113.6 Q907.2 113.6 907.2 117.5" fill="none" stroke="#1c1c1c" stroke-width="0.6"/>
<rect x="899.8" y="114.5" width="4.2" height="19" fill="#aaa" stroke="#1c1c1c" stroke-width="0.6"/>
<line x1="899.8" y1="121.5" x2="904" y2="121.5" stroke="#1c1c1c" stroke-width="0.5"/>
<rect x="899.4" y="130.8" width="5" height="4.8" fill="#555" stroke="#1c1c1c" stroke-width="0.8"/>
<circle cx="897" cy="117.3" r="0.6" fill="#333" stroke="#1c1c1c" stroke-width="0.3"/>
<circle cx="907.2" cy="117.3" r="0.6" fill="#333" stroke="#1c1c1c" stroke-width="0.3"/>
<circle cx="902" cy="138.4" r="0.6" fill="#333" stroke="#1c1c1c" stroke-width="0.3"/>
<circle cx="910" cy="111.5" r="0.5" fill="#333" stroke="#1c1c1c" stroke-width="0.3"/>
<circle cx="910" cy="114.5" r="0.5" fill="#333" stroke="#1c1c1c" stroke-width="0.3"/>
<path d="M709.6 97.1 L713.8 88.5 L736.6 88.5" fill="none" stroke="#1c1c1c" stroke-width="1"/>
<path d="M777 97.1 L772.8 88.5 L750 88.5" fill="none" stroke="#1c1c1c" stroke-width="1"/>
<path d="M711.8 97.1 L715.2 89.9 L722.6 89.9" fill="none" stroke="#1c1c1c" stroke-width="0.5"/>
<path d="M774.8 97.1 L771.4 89.9 L764 89.9" fill="none" stroke="#1c1c1c" stroke-width="0.5"/>
<line x1="722.6" y1="89.9" x2="736.6" y2="89.9" stroke="#1c1c1c" stroke-width="0.6"/>
<line x1="750" y1="89.9" x2="764" y2="89.9" stroke="#1c1c1c" stroke-width="0.6"/>
<path d="M724.1 89.7 Q719.1 90 716.9 97.1" fill="none" stroke="#1c1c1c" stroke-width="0.8"/>
<path d="M727.1 89.9 Q723.1 90.5 721.9 97.1" fill="none" stroke="#1c1c1c" stroke-width="0.6"/>
<path d="M762.5 89.7 Q767.5 90 769.7 97.1" fill="none" stroke="#1c1c1c" stroke-width="0.8"/>
<path d="M759.5 89.9 Q763.5 90.5 764.7 97.1" fill="none" stroke="#1c1c1c" stroke-width="0.6"/>
<line x1="724.4" y1="89.9" x2="724.4" y2="97.1" stroke="#1c1c1c" stroke-width="0.6"/>
<line x1="762.2" y1="89.9" x2="762.2" y2="97.1" stroke="#1c1c1c" stroke-width="0.6"/>
<rect x="731.2" y="92.3" width="23.8" height="4.8" fill="#d8d8d8" stroke="#1c1c1c" stroke-width="0.9"/>
<line x1="732.2" y1="93.5" x2="754" y2="93.5" stroke="#1c1c1c" stroke-width="0.7"/>
<line x1="731.2" y1="94.7" x2="755" y2="94.7" stroke="#1c1c1c" stroke-width="0.8"/>
<line x1="732.6" y1="95.9" x2="753.6" y2="95.9" stroke="#1c1c1c" stroke-width="0.6"/>
<line x1="734.6" y1="93.5" x2="734.6" y2="94.7" stroke="#1c1c1c" stroke-width="0.5"/>
<line x1="737.6" y1="93.5" x2="737.6" y2="94.7" stroke="#1c1c1c" stroke-width="0.5"/>
<line x1="740.6" y1="93.5" x2="740.6" y2="94.7" stroke="#1c1c1c" stroke-width="0.5"/>
<line x1="746" y1="93.5" x2="746" y2="94.7" stroke="#1c1c1c" stroke-width="0.5"/>
<line x1="749" y1="93.5" x2="749" y2="94.7" stroke="#1c1c1c" stroke-width="0.5"/>
<line x1="752" y1="93.5" x2="752" y2="94.7" stroke="#1c1c1c" stroke-width="0.5"/>
<line x1="742.7" y1="88.5" x2="742.7" y2="97.1" stroke="#1c1c1c" stroke-width="0.7"/>
<line x1="743.9" y1="88.5" x2="743.9" y2="97.1" stroke="#1c1c1c" stroke-width="0.7"/>
<path d="M778.65 97.1 L782.85 88.5 L805.65 88.5" fill="none" stroke="#1c1c1c" stroke-width="1"/>
<path d="M846.05 97.1 L841.85 88.5 L819.05 88.5" fill="none" stroke="#1c1c1c" stroke-width="1"/>
<path d="M780.85 97.1 L784.25 89.9 L791.65 89.9" fill="none" stroke="#1c1c1c" stroke-width="0.5"/>
<path d="M843.85 97.1 L840.45 89.9 L833.05 89.9" fill="none" stroke="#1c1c1c" stroke-width="0.5"/>
<line x1="791.65" y1="89.9" x2="805.65" y2="89.9" stroke="#1c1c1c" stroke-width="0.6"/>
<line x1="819.05" y1="89.9" x2="833.05" y2="89.9" stroke="#1c1c1c" stroke-width="0.6"/>
<path d="M793.15 89.7 Q788.15 90 785.95 97.1" fill="none" stroke="#1c1c1c" stroke-width="0.8"/>
<path d="M796.15 89.9 Q792.15 90.5 790.95 97.1" fill="none" stroke="#1c1c1c" stroke-width="0.6"/>
<path d="M831.55 89.7 Q836.55 90 838.75 97.1" fill="none" stroke="#1c1c1c" stroke-width="0.8"/>
<path d="M828.55 89.9 Q832.55 90.5 833.75 97.1" fill="none" stroke="#1c1c1c" stroke-width="0.6"/>
<line x1="793.45" y1="89.9" x2="793.45" y2="97.1" stroke="#1c1c1c" stroke-width="0.6"/>
<line x1="831.25" y1="89.9" x2="831.25" y2="97.1" stroke="#1c1c1c" stroke-width="0.6"/>
<rect x="800.25" y="92.3" width="23.8" height="4.8" fill="#d8d8d8" stroke="#1c1c1c" stroke-width="0.9"/>
<line x1="801.25" y1="93.5" x2="823.05" y2="93.5" stroke="#1c1c1c" stroke-width="0.7"/>
<line x1="800.25" y1="94.7" x2="824.05" y2="94.7" stroke="#1c1c1c" stroke-width="0.8"/>
<line x1="801.65" y1="95.9" x2="822.65" y2="95.9" stroke="#1c1c1c" stroke-width="0.6"/>
<line x1="803.65" y1="93.5" x2="803.65" y2="94.7" stroke="#1c1c1c" stroke-width="0.5"/>
<line x1="806.65" y1="93.5" x2="806.65" y2="94.7" stroke="#1c1c1c" stroke-width="0.5"/>
<line x1="809.65" y1="93.5" x2="809.65" y2="94.7" stroke="#1c1c1c" stroke-width="0.5"/>
<line x1="815.05" y1="93.5" x2="815.05" y2="94.7" stroke="#1c1c1c" stroke-width="0.5"/>
<line x1="818.05" y1="93.5" x2="818.05" y2="94.7" stroke="#1c1c1c" stroke-width="0.5"/>
<line x1="821.05" y1="93.5" x2="821.05" y2="94.7" stroke="#1c1c1c" stroke-width="0.5"/>
<line x1="811.75" y1="88.5" x2="811.75" y2="97.1" stroke="#1c1c1c" stroke-width="0.7"/>
<line x1="812.95" y1="88.5" x2="812.95" y2="97.1" stroke="#1c1c1c" stroke-width="0.7"/>
<path d="M847.7 97.1 L851.9 88.5 L874.7 88.5" fill="none" stroke="#1c1c1c" stroke-width="1"/>
<path d="M915.1 97.1 L910.9 88.5 L888.1 88.5" fill="none" stroke="#1c1c1c" stroke-width="1"/>
<path d="M849.9 97.1 L853.3 89.9 L860.7 89.9" fill="none" stroke="#1c1c1c" stroke-width="0.5"/>
<path d="M912.9 97.1 L909.5 89.9 L902.1 89.9" fill="none" stroke="#1c1c1c" stroke-width="0.5"/>
<line x1="860.7" y1="89.9" x2="874.7" y2="89.9" stroke="#1c1c1c" stroke-width="0.6"/>
<line x1="888.1" y1="89.9" x2="902.1" y2="89.9" stroke="#1c1c1c" stroke-width="0.6"/>
<path d="M862.2 89.7 Q857.2 90 855 97.1" fill="none" stroke="#1c1c1c" stroke-width="0.8"/>
<path d="M865.2 89.9 Q861.2 90.5 860 97.1" fill="none" stroke="#1c1c1c" stroke-width="0.6"/>
<path d="M900.6 89.7 Q905.6 90 907.8 97.1" fill="none" stroke="#1c1c1c" stroke-width="0.8"/>
<path d="M897.6 89.9 Q901.6 90.5 902.8 97.1" fill="none" stroke="#1c1c1c" stroke-width="0.6"/>
<line x1="862.5" y1="89.9" x2="862.5" y2="97.1" stroke="#1c1c1c" stroke-width="0.6"/>
<line x1="900.3" y1="89.9" x2="900.3" y2="97.1" stroke="#1c1c1c" stroke-width="0.6"/>
<rect x="869.3" y="92.3" width="23.8" height="4.8" fill="#d8d8d8" stroke="#1c1c1c" stroke-width="0.9"/>
<line x1="870.3" y1="93.5" x2="892.1" y2="93.5" stroke="#1c1c1c" stroke-width="0.7"/>
<line x1="869.3" y1="94.7" x2="893.1" y2="94.7" stroke="#1c1c1c" stroke-width="0.8"/>
<line x1="870.7" y1="95.9" x2="891.7" y2="95.9" stroke="#1c1c1c" stroke-width="0.6"/>
<line x1="872.7" y1="93.5" x2="872.7" y2="94.7" stroke="#1c1c1c" stroke-width="0.5"/>
<line x1="875.7" y1="93.5" x2="875.7" y2="94.7" stroke="#1c1c1c" stroke-width="0.5"/>
<line x1="878.7" y1="93.5" x2="878.7" y2="94.7" stroke="#1c1c1c" stroke-width="0.5"/>
<line x1="884.1" y1="93.5" x2="884.1" y2="94.7" stroke="#1c1c1c" stroke-width="0.5"/>
<line x1="887.1" y1="93.5" x2="887.1" y2="94.7" stroke="#1c1c1c" stroke-width="0.5"/>
<line x1="890.1" y1="93.5" x2="890.1" y2="94.7" stroke="#1c1c1c" stroke-width="0.5"/>
<line x1="880.8" y1="88.5" x2="880.8" y2="97.1" stroke="#1c1c1c" stroke-width="0.7"/>
<line x1="882" y1="88.5" x2="882" y2="97.1" stroke="#1c1c1c" stroke-width="0.7"/>
<line x1="702.7" y1="50.9" x2="702.7" y2="97.1" stroke="#1c1c1c" stroke-width="0.7"/>
<line x1="720.4" y1="50.9" x2="720.4" y2="149.8" stroke="#1c1c1c" stroke-width="0.7"/>
<line x1="685.7" y1="56.3" x2="720.4" y2="56.3" stroke="#1c1c1c" stroke-width="0.7"/>
<polygon points="702.7,56.3 711.3,53.85 711.3,58.75" fill="#000"/>
<polygon points="720.4,56.3 711.8,53.85 711.8,58.75" fill="#000"/>
<text class="ts" transform="translate(692.2 51.9) scale(0.9 1)" font-size="12.9" text-anchor="middle" stroke="#111" stroke-width="0.25">71</text>
<line x1="901.9" y1="50.3" x2="901.9" y2="113" stroke="#1c1c1c" stroke-width="0.7"/>
<line x1="921.9" y1="50.3" x2="921.9" y2="97.1" stroke="#1c1c1c" stroke-width="0.7"/>
<line x1="880.5" y1="55.2" x2="945" y2="55.2" stroke="#1c1c1c" stroke-width="0.7"/>
<polygon points="901.9,55.2 893.3,52.75 893.3,57.65" fill="#000"/>
<polygon points="921.9,55.2 930.5,52.75 930.5,57.65" fill="#000"/>
<text class="ts" transform="translate(938.9 50.6) scale(0.9 1)" font-size="12.9" text-anchor="middle" stroke="#111" stroke-width="0.25">82</text>
<line x1="677.5" y1="149.8" x2="720.6" y2="149.8" stroke="#1c1c1c" stroke-width="0.7"/>
<line x1="677.5" y1="317.3" x2="708.6" y2="317.3" stroke="#1c1c1c" stroke-width="0.7"/>
<line x1="682.4" y1="149.8" x2="682.4" y2="317.3" stroke="#1c1c1c" stroke-width="0.7"/>
<polygon points="682.4,149.8 679.95,158.4 684.85,158.4" fill="#000"/>
<polygon points="682.4,317.3 679.95,308.7 684.85,308.7" fill="#000"/>
<text class="ts" transform="translate(678.7 233.5) rotate(-90) scale(0.9 1)" font-size="12.9" text-anchor="middle" stroke="#111" stroke-width="0.25">687</text>
<line x1="908.4" y1="136.3" x2="952" y2="136.3" stroke="#1c1c1c" stroke-width="0.7"/>
<line x1="921.9" y1="296.4" x2="952" y2="296.4" stroke="#1c1c1c" stroke-width="0.7"/>
<line x1="947.5" y1="136.3" x2="947.5" y2="296.4" stroke="#1c1c1c" stroke-width="0.7"/>
<polygon points="947.5,136.3 945.05,144.9 949.95,144.9" fill="#000"/>
<polygon points="947.5,296.4 945.05,287.8 949.95,287.8" fill="#000"/>
<path d="M655.3 66.6 L660.7 66.8 L656.1 85 L666.5 83.1 L661.9 105.8 L664.5 105.8 L658.7 114.7 L653.4 105.8 L656.8 105.8 L659.7 90.3 L648.3 93 Z" fill="#fff" stroke="#1c1c1c" stroke-width="0.8"/>
<path d="M643.7 115 L675.2 115 L726 131.1" fill="none" stroke="#1c1c1c" stroke-width="0.8"/>
<polygon points="732.2,133.1 722.6,133.0 724.2,127.9" fill="#000"/>
<path d="M962 81.7 C958.5 81.5 954.5 78 953.2 74.2 C951.6 70 951.8 66 952.1 64.2 L953.7 62 L954.3 63.6 L955.9 54.8 L957.6 57.6 L959.6 47.1 L961.5 49.9 L964.6 40.2 C966 42.5 967.5 44.5 968.6 46.6 C969.8 48.3 970.8 49.7 971.4 51 L970.7 52.1 L971.7 48.8 C973.4 50.8 974.9 53.2 975.8 55.4 L976.9 59.3 L978.6 56.5 C979.7 58.5 980.5 60.8 980.8 63.1 C981 65.2 980.7 67 980.2 68.6 L981.7 68.1 C981.6 70.6 980.9 73.2 979.7 75.3 C978.6 77.4 977 79.2 975.3 80.2 C973 81.4 970 81.8 967.5 81.7" fill="none" stroke="#1c1c1c" stroke-width="0.8"/>
<path d="M962 81.7 C959.5 80.8 957.3 78.8 956.5 76.4 C955.9 74.6 955.9 72.9 956.3 71.4 L959.3 66.4 L960.9 71.4 L963.1 65.3 L964.8 69.7 L968.1 60.4 C969.4 63 970.6 65.8 971.4 68.6 L973.1 67 C973.8 68.6 974.2 70.3 974.2 72 C974.1 74 973.5 75.9 972.5 77.5 C971.3 79.4 969.4 80.9 967.5 81.7" fill="none" stroke="#1c1c1c" stroke-width="0.8"/>
<path d="M903.5 135.2 L943.2 84.1 L974.7 84.1" fill="none" stroke="#1c1c1c" stroke-width="0.8"/>
<line x1="956" y1="84.1" x2="974.7" y2="84.1" stroke="#1c1c1c" stroke-width="1.3"/>
<polygon points="902.6,136.4 904.6,127.8 909.4,131.6" fill="#000"/>
<text class="ts" x="956.5" y="98.5" font-size="12" font-weight="bold" textLength="20.4" lengthAdjust="spacingAndGlyphs">1/2"</text>
<text class="ts" transform="translate(943.2 216.3) rotate(-90) scale(0.9 1)" font-size="12.9" text-anchor="middle" stroke="#111" stroke-width="0.25">659</text>
<line x1="61.5" y1="408.9" x2="317.7" y2="408.9" stroke="#1c1c1c" stroke-width="0.8"/>
<line x1="61.5" y1="555.2" x2="317.7" y2="555.2" stroke="#1c1c1c" stroke-width="0.9"/>
<line x1="98.3" y1="408.9" x2="98.3" y2="555.2" stroke="#1c1c1c" stroke-width="0.9"/>
<line x1="317.7" y1="408.9" x2="317.7" y2="597" stroke="#1c1c1c" stroke-width="0.8"/>
<rect x="104.3" y="420.6" width="207" height="129.7" rx="3.2" fill="none" stroke="#1a1a1a" stroke-width="1.5"/>
<line x1="173.3" y1="420.6" x2="173.3" y2="550.3" stroke="#1a1a1a" stroke-width="1.1"/>
<line x1="242.3" y1="420.6" x2="242.3" y2="550.3" stroke="#1a1a1a" stroke-width="1.1"/>
<rect x="111.4" y="428.4" width="55.3" height="54.1" fill="none" stroke="#2a2a2a" stroke-width="0.9"/>
<rect x="111.4" y="488.9" width="55.3" height="54.7" fill="none" stroke="#2a2a2a" stroke-width="0.9"/>
<polygon points="118.45,420.6 119.45,434.5 120.55,434.5 121.55,420.6" fill="#333"/>
<polygon points="121.55,550.3 120.55,536.3 119.45,536.3 118.45,550.3" fill="#333"/>
<polygon points="119.5,472.7 118.45,485.55 119.5,498.4 120.5,498.4 121.55,485.55 120.5,472.7" fill="#333"/>
<polygon points="156.45,420.6 157.45,434.5 158.55,434.5 159.55,420.6" fill="#333"/>
<polygon points="159.55,550.3 158.55,536.3 157.45,536.3 156.45,550.3" fill="#333"/>
<polygon points="157.5,472.7 156.45,485.55 157.5,498.4 158.5,498.4 159.55,485.55 158.5,472.7" fill="#333"/>
<polygon points="137.6,420.6 138.2,447.8 139.8,447.8 140.4,420.6" fill="#333"/>
<polygon points="140.5,550.3 139.8,517.3 138.2,517.3 137.5,550.3" fill="#000"/>
<polygon points="138.25,459.8 137.9,485.55 138.25,511.3 139.75,511.3 140.1,485.55 139.75,459.8" fill="#333"/>
<polygon points="104.3,438.05 118.5,437.05 118.5,435.95 104.3,434.95" fill="#333"/>
<polygon points="104.3,472.65 118.5,471.65 118.5,470.55 104.3,469.55" fill="#333"/>
<polygon points="104.3,455.2 133,454.6 133,453 104.3,452.4" fill="#000"/>
<polygon points="104.3,501.55 118.5,500.55 118.5,499.45 104.3,498.45" fill="#333"/>
<polygon points="104.3,536.15 118.5,535.15 118.5,534.05 104.3,533.05" fill="#333"/>
<polygon points="104.3,518.7 133,518.1 133,516.5 104.3,515.9" fill="#000"/>
<rect x="180.4" y="428.4" width="55.3" height="54.1" fill="none" stroke="#2a2a2a" stroke-width="0.9"/>
<rect x="180.4" y="488.9" width="55.3" height="54.7" fill="none" stroke="#2a2a2a" stroke-width="0.9"/>
<polygon points="187.35,420.6 188.35,434.5 189.45,434.5 190.45,420.6" fill="#333"/>
<polygon points="190.45,550.3 189.45,536.3 188.35,536.3 187.35,550.3" fill="#333"/>
<polygon points="188.4,472.7 187.35,485.55 188.4,498.4 189.4,498.4 190.45,485.55 189.4,472.7" fill="#333"/>
<polygon points="225.35,420.6 226.35,434.5 227.45,434.5 228.45,420.6" fill="#333"/>
<polygon points="228.45,550.3 227.45,536.3 226.35,536.3 225.35,550.3" fill="#333"/>
<polygon points="226.4,472.7 225.35,485.55 226.4,498.4 227.4,498.4 228.45,485.55 227.4,472.7" fill="#333"/>
<polygon points="206.5,420.6 207.1,447.8 208.7,447.8 209.3,420.6" fill="#333"/>
<polygon points="209.4,550.3 208.7,517.3 207.1,517.3 206.4,550.3" fill="#000"/>
<polygon points="207.15,459.8 206.8,485.55 207.15,511.3 208.65,511.3 209,485.55 208.65,459.8" fill="#333"/>
<polygon points="159.5,437 173.5,438.05 187.5,437 187.5,436 173.5,434.95 159.5,436" fill="#333"/>
<polygon points="159.5,471.6 173.5,472.65 187.5,471.6 187.5,470.6 173.5,469.55 159.5,470.6" fill="#333"/>
<polygon points="145.5,454.45 173.45,454.75 201.4,454.45 201.4,453.15 173.45,452.85 145.5,453.15" fill="#333"/>
<polygon points="159.5,500.5 173.5,501.55 187.5,500.5 187.5,499.5 173.5,498.45 159.5,499.5" fill="#333"/>
<polygon points="159.5,535.1 173.5,536.15 187.5,535.1 187.5,534.1 173.5,533.05 159.5,534.1" fill="#333"/>
<polygon points="145.5,517.95 173.45,518.25 201.4,517.95 201.4,516.65 173.45,516.35 145.5,516.65" fill="#333"/>
<rect x="249.4" y="428.4" width="55.3" height="54.1" fill="none" stroke="#2a2a2a" stroke-width="0.9"/>
<rect x="249.4" y="488.9" width="55.3" height="54.7" fill="none" stroke="#2a2a2a" stroke-width="0.9"/>
<polygon points="256.15,420.6 257.15,434.5 258.25,434.5 259.25,420.6" fill="#333"/>
<polygon points="259.25,550.3 258.25,536.3 257.15,536.3 256.15,550.3" fill="#333"/>
<polygon points="257.2,472.7 256.15,485.55 257.2,498.4 258.2,498.4 259.25,485.55 258.2,472.7" fill="#333"/>
<polygon points="294.15,420.6 295.15,434.5 296.25,434.5 297.25,420.6" fill="#333"/>
<polygon points="297.25,550.3 296.25,536.3 295.15,536.3 294.15,550.3" fill="#333"/>
<polygon points="295.2,472.7 294.15,485.55 295.2,498.4 296.2,498.4 297.25,485.55 296.2,472.7" fill="#333"/>
<polygon points="275.3,420.6 275.9,447.8 277.5,447.8 278.1,420.6" fill="#333"/>
<polygon points="278.2,550.3 277.5,517.3 275.9,517.3 275.2,550.3" fill="#000"/>
<polygon points="275.95,459.8 275.6,485.55 275.95,511.3 277.45,511.3 277.8,485.55 277.45,459.8" fill="#333"/>
<polygon points="228.5,437 242.5,438.05 256.5,437 256.5,436 242.5,434.95 228.5,436" fill="#333"/>
<polygon points="311.3,434.95 297.1,435.95 297.1,437.05 311.3,438.05" fill="#333"/>
<polygon points="228.5,471.6 242.5,472.65 256.5,471.6 256.5,470.6 242.5,469.55 228.5,470.6" fill="#333"/>
<polygon points="311.3,469.55 297.1,470.55 297.1,471.65 311.3,472.65" fill="#333"/>
<polygon points="214.4,454.45 242.3,454.75 270.2,454.45 270.2,453.15 242.3,452.85 214.4,453.15" fill="#333"/>
<polygon points="311.3,452.6 283.2,453.1 283.2,454.5 311.3,455" fill="#333"/>
<polygon points="228.5,500.5 242.5,501.55 256.5,500.5 256.5,499.5 242.5,498.45 228.5,499.5" fill="#333"/>
<polygon points="311.3,498.45 297.1,499.45 297.1,500.55 311.3,501.55" fill="#333"/>
<polygon points="228.5,535.1 242.5,536.15 256.5,535.1 256.5,534.1 242.5,533.05 228.5,534.1" fill="#333"/>
<polygon points="311.3,533.05 297.1,534.05 297.1,535.15 311.3,536.15" fill="#333"/>
<polygon points="214.4,517.95 242.3,518.25 270.2,517.95 270.2,516.65 242.3,516.35 214.4,516.65" fill="#333"/>
<polygon points="311.3,516.1 283.2,516.6 283.2,518 311.3,518.5" fill="#333"/>
<circle cx="139" cy="453.8" r="5.5" fill="#fff" stroke="none" stroke-width="0"/>
<circle cx="139" cy="453.8" r="16.1" fill="none" stroke="#777" stroke-width="1.7"/>
<circle cx="139" cy="453.8" r="10.7" fill="none" stroke="#1a1a1a" stroke-width="1.2"/>
<circle cx="139" cy="453.8" r="8.9" fill="none" stroke="#1a1a1a" stroke-width="1.2"/>
<circle cx="207.9" cy="453.8" r="5.5" fill="#fff" stroke="none" stroke-width="0"/>
<circle cx="207.9" cy="453.8" r="16.1" fill="none" stroke="#777" stroke-width="1.7"/>
<circle cx="207.9" cy="453.8" r="10.7" fill="none" stroke="#1a1a1a" stroke-width="1.2"/>
<circle cx="207.9" cy="453.8" r="8.9" fill="none" stroke="#1a1a1a" stroke-width="1.2"/>
<circle cx="276.7" cy="453.8" r="5.5" fill="#fff" stroke="none" stroke-width="0"/>
<circle cx="276.7" cy="453.8" r="18.9" fill="none" stroke="#777" stroke-width="1.7"/>
<circle cx="276.7" cy="453.8" r="13.9" fill="none" stroke="#1a1a1a" stroke-width="1.2"/>
<circle cx="276.7" cy="453.8" r="12" fill="none" stroke="#1a1a1a" stroke-width="1.2"/>
<circle cx="276.7" cy="453.8" r="8.8" fill="none" stroke="#1a1a1a" stroke-width="1.1"/>
<circle cx="276.7" cy="453.8" r="6.8" fill="none" stroke="#1a1a1a" stroke-width="1.1"/>
<circle cx="139" cy="517.3" r="5.5" fill="#fff" stroke="none" stroke-width="0"/>
<circle cx="139" cy="517.3" r="18.9" fill="none" stroke="#777" stroke-width="1.7"/>
<circle cx="139" cy="517.3" r="13.9" fill="none" stroke="#1a1a1a" stroke-width="1.2"/>
<circle cx="139" cy="517.3" r="12" fill="none" stroke="#1a1a1a" stroke-width="1.2"/>
<circle cx="139" cy="517.3" r="8.8" fill="none" stroke="#1a1a1a" stroke-width="1.1"/>
<circle cx="139" cy="517.3" r="6.8" fill="none" stroke="#1a1a1a" stroke-width="1.1"/>
<circle cx="207.9" cy="517.3" r="5.5" fill="#fff" stroke="none" stroke-width="0"/>
<circle cx="207.9" cy="517.3" r="21.8" fill="none" stroke="#1a1a1a" stroke-width="1.2"/>
<circle cx="207.9" cy="517.3" r="19.1" fill="none" stroke="#1a1a1a" stroke-width="1.2"/>
<circle cx="207.9" cy="517.3" r="15.9" fill="none" stroke="#1a1a1a" stroke-width="1.2"/>
<circle cx="207.9" cy="517.3" r="8" fill="none" stroke="#1a1a1a" stroke-width="0.9"/>
<circle cx="207.9" cy="517.3" r="6.7" fill="none" stroke="#333" stroke-width="1.6" stroke-dasharray="1 2.5"/>
<circle cx="207.9" cy="517.3" r="5.2" fill="none" stroke="#1a1a1a" stroke-width="1.3"/>
<line x1="207.9" y1="517.3" x2="207.9" y2="525.3" stroke="#000" stroke-width="1.6"/>
<circle cx="276.7" cy="517.3" r="5.5" fill="#fff" stroke="none" stroke-width="0"/>
<circle cx="276.7" cy="517.3" r="16.1" fill="none" stroke="#777" stroke-width="1.7"/>
<circle cx="276.7" cy="517.3" r="11.2" fill="none" stroke="#1a1a1a" stroke-width="1.2"/>
<circle cx="276.7" cy="517.3" r="8.6" fill="none" stroke="#1a1a1a" stroke-width="1"/>
<circle cx="276.7" cy="517.3" r="6.2" fill="none" stroke="#1a1a1a" stroke-width="1.5"/>
<line x1="276.7" y1="517.3" x2="276.7" y2="525.3" stroke="#000" stroke-width="1.6"/>
<line x1="126" y1="561.5" x2="289.4" y2="561.5" stroke="#1c1c1c" stroke-width="0.8"/>
<line x1="126" y1="558.6" x2="126" y2="561.5" stroke="#1c1c1c" stroke-width="0.7"/>
<path d="M122.4 555.2 L122.4 558.3 L124.8 558.3 L124.8 555.2" fill="none" stroke="#1c1c1c" stroke-width="0.7"/>
<path d="M141.3 555.2 L141.3 558.3 L143.7 558.3 L143.7 555.2" fill="none" stroke="#1c1c1c" stroke-width="0.7"/>
<path d="M160.2 555.2 L160.2 558.3 L162.6 558.3 L162.6 555.2" fill="none" stroke="#1c1c1c" stroke-width="0.7"/>
<path d="M179 555.2 L179 558.3 L181.4 558.3 L181.4 555.2" fill="none" stroke="#1c1c1c" stroke-width="0.7"/>
<path d="M197.8 555.2 L197.8 558.3 L200.2 558.3 L200.2 555.2" fill="none" stroke="#1c1c1c" stroke-width="0.7"/>
<path d="M216.4 555.2 L216.4 558.3 L218.8 558.3 L218.8 555.2" fill="none" stroke="#1c1c1c" stroke-width="0.7"/>
<path d="M272 555.2 L272 558.3 L274.4 558.3 L274.4 555.2" fill="none" stroke="#1c1c1c" stroke-width="0.7"/>
<path d="M287.2 555.2 L287.2 561.3 L289.6 561.3 L289.6 555.2 M290.6 555.2 L290.6 558.3 L293 558.3 L293 555.2" fill="none" stroke="#1c1c1c" stroke-width="0.7"/>
<line x1="61.5" y1="453.8" x2="139" y2="453.8" stroke="#1c1c1c" stroke-width="0.7"/>
<line x1="61.5" y1="517.3" x2="139" y2="517.3" stroke="#1c1c1c" stroke-width="0.7"/>
<line x1="66.8" y1="408.9" x2="66.8" y2="555.2" stroke="#1c1c1c" stroke-width="0.7"/>
<polygon points="66.8,453.8 64.35,445.2 69.25,445.2" fill="#000"/>
<polygon points="66.8,517.3 64.35,508.7 69.25,508.7" fill="#000"/>
<polygon points="66.8,555.2 64.35,546.6 69.25,546.6" fill="#000"/>
<polygon points="66.8,408.9 64.35,417.5 69.25,417.5" fill="#000"/>
<polygon points="66.8,453.8 64.35,462.4 69.25,462.4" fill="#000"/>
<polygon points="66.8,517.3 64.35,525.9 69.25,525.9" fill="#000"/>
<text class="ts" transform="translate(63.2 430.6) rotate(-90) scale(0.9 1)" font-size="12.9" text-anchor="middle" stroke="#111" stroke-width="0.25">185</text>
<text class="ts" transform="translate(63.2 485) rotate(-90) scale(0.9 1)" font-size="12.9" text-anchor="middle" stroke="#111" stroke-width="0.25">260</text>
<text class="ts" transform="translate(63.2 535.4) rotate(-90) scale(0.9 1)" font-size="12.9" text-anchor="middle" stroke="#111" stroke-width="0.25">155</text>
<line x1="98.3" y1="555.2" x2="98.3" y2="597" stroke="#1c1c1c" stroke-width="0.7"/>
<line x1="139" y1="517.3" x2="139" y2="597" stroke="#1c1c1c" stroke-width="0.7"/>
<line x1="207.9" y1="517.3" x2="207.9" y2="597" stroke="#1c1c1c" stroke-width="0.7"/>
<line x1="276.7" y1="517.3" x2="276.7" y2="597" stroke="#1c1c1c" stroke-width="0.7"/>
<line x1="98.3" y1="592.4" x2="317.7" y2="592.4" stroke="#1c1c1c" stroke-width="0.7"/>
<polygon points="139,592.4 130.4,589.95 130.4,594.85" fill="#000"/>
<polygon points="207.9,592.4 199.3,589.95 199.3,594.85" fill="#000"/>
<polygon points="276.7,592.4 268.1,589.95 268.1,594.85" fill="#000"/>
<polygon points="317.7,592.4 309.1,589.95 309.1,594.85" fill="#000"/>
<polygon points="98.3,592.4 106.9,589.95 106.9,594.85" fill="#000"/>
<polygon points="139,592.4 147.6,589.95 147.6,594.85" fill="#000"/>
<polygon points="207.9,592.4 216.5,589.95 216.5,594.85" fill="#000"/>
<polygon points="276.7,592.4 285.3,589.95 285.3,594.85" fill="#000"/>
<text class="ts" transform="translate(119.5 588) scale(0.9 1)" font-size="12.9" text-anchor="middle" stroke="#111" stroke-width="0.25">168</text>
<text class="ts" transform="translate(173.8 588) scale(0.9 1)" font-size="12.9" text-anchor="middle" stroke="#111" stroke-width="0.25">281</text>
<text class="ts" transform="translate(242.5 588) scale(0.9 1)" font-size="12.9" text-anchor="middle" stroke="#111" stroke-width="0.25">282</text>
<text class="ts" transform="translate(297.8 588) scale(0.9 1)" font-size="12.9" text-anchor="middle" stroke="#111" stroke-width="0.25">168</text>
<path d="M812.8 556 L812.8 564.8 A3.4 1.3 0 0 0 819.6 564.8 L819.6 556" fill="#fff" stroke="#1c1c1c" stroke-width="0.8"/>
<path d="M812.8 563.2 A3.4 1.3 0 0 0 819.6 563.2" fill="none" stroke="#1c1c1c" stroke-width="0.7"/>
<path d="M813.2 564.2 A3.4 1.3 0 0 0 819.2 564.2" fill="none" stroke="#1c1c1c" stroke-width="0.9"/>
<path d="M894.8 594 L894.8 602.6 A3.4 1.3 0 0 0 901.6 602.6 L901.6 594" fill="#fff" stroke="#1c1c1c" stroke-width="0.8"/>
<path d="M894.8 601 A3.4 1.3 0 0 0 901.6 601" fill="none" stroke="#1c1c1c" stroke-width="0.7"/>
<path d="M895.2 602 A3.4 1.3 0 0 0 901.2 602" fill="none" stroke="#1c1c1c" stroke-width="0.9"/>
<path d="M940.4 579 L940.4 587.8 A3.4 1.3 0 0 0 947.2 587.8 L947.2 579" fill="#fff" stroke="#1c1c1c" stroke-width="0.8"/>
<path d="M940.4 586.2 A3.4 1.3 0 0 0 947.2 586.2" fill="none" stroke="#1c1c1c" stroke-width="0.7"/>
<path d="M940.8 587.2 A3.4 1.3 0 0 0 946.8 587.2" fill="none" stroke="#1c1c1c" stroke-width="0.9"/>
<path d="M886.9 480.2 L959.4 458.2 L959.4 575.8 L886.9 597 Z" fill="#fff" stroke="#1c1c1c" stroke-width="1"/>
<path d="M795.4 438 L886.9 480.2 L886.9 597 L883.6 593.5 L802.2 556.8 L795.4 555.8 Z" fill="#fff" stroke="#1c1c1c" stroke-width="1"/>
<line x1="799.2" y1="440" x2="799.2" y2="556.3" stroke="#1c1c1c" stroke-width="0.9"/>
<line x1="802.2" y1="441.5" x2="802.2" y2="556.8" stroke="#1c1c1c" stroke-width="1"/>
<line x1="883.6" y1="479" x2="883.6" y2="593.5" stroke="#1c1c1c" stroke-width="1"/>
<path d="M794.9 432.4 L870.4 408.3 L962.5 452.4 L886.9 474.9 Z" fill="#fff" stroke="#1c1c1c" stroke-width="1.05"/>
<path d="M794.9 432.4 L794.9 438.3 L886.9 480.2 L886.9 474.9 Z" fill="#fff" stroke="#1c1c1c" stroke-width="1.05"/>
<path d="M886.9 474.9 L886.9 480.2 L962.5 457.3 L962.5 452.4 Z" fill="#fff" stroke="#1c1c1c" stroke-width="1.05"/>
<path d="M797.15 432.5 L870.58 410.6 L960.45 452.3 L887.02 474.19 Z" fill="none" stroke="#1c1c1c" stroke-width="0.7"/>
<path d="M799.26 432.73 L867.35 412.42 L954.76 452.97 L886.67 473.27 Z" fill="#fff" stroke="#1c1c1c" stroke-width="1"/>
<line x1="802.2" y1="442" x2="883.6" y2="479.3" stroke="#1c1c1c" stroke-width="0.9"/>
<line x1="802.2" y1="459" x2="883.6" y2="492.6" stroke="#1c1c1c" stroke-width="0.9"/>
<line x1="802.2" y1="462" x2="883.6" y2="495.8" stroke="#1c1c1c" stroke-width="0.9"/>
<line x1="802.2" y1="466" x2="883.6" y2="499.6" stroke="#1c1c1c" stroke-width="0.8"/>
<line x1="802.2" y1="533.8" x2="883.6" y2="568.2" stroke="#1c1c1c" stroke-width="0.9"/>
<line x1="802.2" y1="536" x2="883.6" y2="570.6" stroke="#1c1c1c" stroke-width="1.2"/>
<ellipse cx="806.2" cy="452.2" rx="3.2" ry="4.2" fill="#fff" stroke="#1c1c1c" stroke-width="1.0" transform="rotate(10 806.2 452.2)"/>
<ellipse cx="805.8" cy="452.7" rx="2.0" ry="3.0" fill="#777" stroke="#222" stroke-width="0.8" transform="rotate(10 806.2 452.2)"/>
<ellipse cx="813.9" cy="455.7" rx="3.2" ry="4.2" fill="#fff" stroke="#1c1c1c" stroke-width="1.0" transform="rotate(10 813.9 455.7)"/>
<ellipse cx="813.5" cy="456.2" rx="2.0" ry="3.0" fill="#777" stroke="#222" stroke-width="0.8" transform="rotate(10 813.9 455.7)"/>
<ellipse cx="822" cy="459.4" rx="3.2" ry="4.2" fill="#fff" stroke="#1c1c1c" stroke-width="1.0" transform="rotate(10 822 459.4)"/>
<ellipse cx="821.6" cy="459.9" rx="2.0" ry="3.0" fill="#777" stroke="#222" stroke-width="0.8" transform="rotate(10 822 459.4)"/>
<ellipse cx="829.9" cy="463.1" rx="3.2" ry="4.2" fill="#fff" stroke="#1c1c1c" stroke-width="1.0" transform="rotate(10 829.9 463.1)"/>
<ellipse cx="829.5" cy="463.6" rx="2.0" ry="3.0" fill="#777" stroke="#222" stroke-width="0.8" transform="rotate(10 829.9 463.1)"/>
<ellipse cx="837.9" cy="466.8" rx="3.2" ry="4.2" fill="#fff" stroke="#1c1c1c" stroke-width="1.0" transform="rotate(10 837.9 466.8)"/>
<ellipse cx="837.5" cy="467.3" rx="2.0" ry="3.0" fill="#777" stroke="#222" stroke-width="0.8" transform="rotate(10 837.9 466.8)"/>
<ellipse cx="845.7" cy="470.5" rx="3.2" ry="4.2" fill="#fff" stroke="#1c1c1c" stroke-width="1.0" transform="rotate(10 845.7 470.5)"/>
<ellipse cx="845.3" cy="471" rx="2.0" ry="3.0" fill="#777" stroke="#222" stroke-width="0.8" transform="rotate(10 845.7 470.5)"/>
<ellipse cx="868.9" cy="481" rx="3.2" ry="4.2" fill="#fff" stroke="#1c1c1c" stroke-width="1.0" transform="rotate(10 868.9 481)"/>
<ellipse cx="868.5" cy="481.5" rx="2.0" ry="3.0" fill="#777" stroke="#222" stroke-width="0.8" transform="rotate(10 868.9 481)"/>
<ellipse cx="876.8" cy="484.8" rx="3.2" ry="4.2" fill="#fff" stroke="#1c1c1c" stroke-width="1.0" transform="rotate(10 876.8 484.8)"/>
<ellipse cx="876.4" cy="485.3" rx="2.0" ry="3.0" fill="#777" stroke="#222" stroke-width="0.8" transform="rotate(10 876.8 484.8)"/>
<path d="M854.6 466.3 L863.4 470.2 L863.4 482.6 L854.6 478.7 Z" fill="none" stroke="#1c1c1c" stroke-width="1"/>
<path d="M856.2 469 L861.9 471.6 L861.9 479.9 L856.2 477.3 Z" fill="none" stroke="#1c1c1c" stroke-width="0.8"/>
<path d="M805.2 474.1 L877.6 505.7 L877.6 508.9 L805.2 477.3 Z" fill="#fff" stroke="#1c1c1c" stroke-width="1"/>
<line x1="805.2" y1="476.1" x2="872.6" y2="507.7" stroke="#1c1c1c" stroke-width="0.6"/>
<path d="M871.4 505.2 L878.6 503.8 L878.6 507.6 L871.4 509.1 Z" fill="#eee" stroke="#1c1c1c" stroke-width="0.8"/>
<path d="M803.8 475.2 L808.6 472.9 L810.2 473.7 L805.6 476.2 Z" fill="#fff" stroke="#1c1c1c" stroke-width="0.7"/>
<path d="M814.2 486.8 L873.7 511.6 L873.7 549.4 L814.2 522.6 Z" fill="none" stroke="#1c1c1c" stroke-width="1.15"/>
<path d="M867.59 412.93 L895.79 426.01 L828.58 446.05 L800.38 432.97 Z" fill="none" stroke="#111" stroke-width="0.9"/>
<path d="M867.19 414.32 L892.04 425.85 L828.98 444.65 L804.12 433.13 Z" fill="none" stroke="#222" stroke-width="0.7"/>
<path d="M867.59 411.33 L895.79 424.41 L828.58 444.45 L800.38 431.37 Z" fill="none" stroke="#222" stroke-width="0.8"/>
<path d="M896.46 426.32 L924.66 439.4 L857.45 459.44 L829.25 446.36 Z" fill="none" stroke="#111" stroke-width="0.9"/>
<path d="M896.06 427.72 L920.91 439.24 L857.85 458.05 L832.99 446.52 Z" fill="none" stroke="#222" stroke-width="0.7"/>
<path d="M896.46 424.72 L924.66 437.8 L857.45 457.84 L829.25 444.76 Z" fill="none" stroke="#222" stroke-width="0.8"/>
<path d="M925.33 439.71 L953.53 452.8 L886.32 472.83 L858.12 459.75 Z" fill="none" stroke="#111" stroke-width="0.9"/>
<path d="M924.93 441.11 L949.78 452.64 L886.72 471.44 L861.86 459.91 Z" fill="none" stroke="#222" stroke-width="0.7"/>
<path d="M925.33 438.11 L953.53 451.2 L886.32 471.23 L858.12 458.15 Z" fill="none" stroke="#222" stroke-width="0.8"/>
<g class="ns" transform="matrix(0.4184 0.1941 -0.5182 0.1545 1041.57 326.9)">
<circle cx="139" cy="453.8" r="13" fill="#f4f4f4" stroke="#222" stroke-width="1.1"/>
<circle cx="139" cy="453.8" r="9.36" fill="none" stroke="#222" stroke-width="0.9"/>
<circle cx="139" cy="453.8" r="5.85" fill="#777" stroke="#111" stroke-width="1.2"/>
</g>
<path d="M860.37 424.04 Q862.57 423.04 862.97 419.44 L866.17 419.44 Q866.57 423.04 868.77 424.04 Q864.57 426.24 860.37 424.04 Z" fill="#555" stroke="#111" stroke-width="0.8"/>
<ellipse cx="864.57" cy="419.44" rx="1.7" ry="0.8" fill="#eee" stroke="#111" stroke-width="0.6"/>
<g class="ns" transform="matrix(0.4184 0.1941 -0.5182 0.1545 1041.57 326.9)">
<circle cx="207.9" cy="453.8" r="13" fill="#f4f4f4" stroke="#222" stroke-width="1.1"/>
<circle cx="207.9" cy="453.8" r="9.36" fill="none" stroke="#222" stroke-width="0.9"/>
<circle cx="207.9" cy="453.8" r="5.85" fill="#777" stroke="#111" stroke-width="1.2"/>
</g>
<path d="M889.2 437.41 Q891.4 436.41 891.8 432.81 L895 432.81 Q895.4 436.41 897.6 437.41 Q893.4 439.61 889.2 437.41 Z" fill="#555" stroke="#111" stroke-width="0.8"/>
<ellipse cx="893.4" cy="432.81" rx="1.7" ry="0.8" fill="#eee" stroke="#111" stroke-width="0.6"/>
<g class="ns" transform="matrix(0.4184 0.1941 -0.5182 0.1545 1041.57 326.9)">
<circle cx="276.7" cy="453.8" r="15.5" fill="#f4f4f4" stroke="#222" stroke-width="1.1"/>
<circle cx="276.7" cy="453.8" r="11.16" fill="none" stroke="#222" stroke-width="0.9"/>
<circle cx="276.7" cy="453.8" r="6.98" fill="#777" stroke="#111" stroke-width="1.2"/>
</g>
<path d="M917.98 450.77 Q920.18 449.77 920.58 446.17 L923.78 446.17 Q924.18 449.77 926.38 450.77 Q922.18 452.97 917.98 450.77 Z" fill="#555" stroke="#111" stroke-width="0.8"/>
<ellipse cx="922.18" cy="446.17" rx="1.7" ry="0.8" fill="#eee" stroke="#111" stroke-width="0.6"/>
<g class="ns" transform="matrix(0.4184 0.1941 -0.5182 0.1545 1041.57 326.9)">
<circle cx="139" cy="517.3" r="15.5" fill="#f4f4f4" stroke="#222" stroke-width="1.1"/>
<circle cx="139" cy="517.3" r="11.16" fill="none" stroke="#222" stroke-width="0.9"/>
<circle cx="139" cy="517.3" r="6.98" fill="#777" stroke="#111" stroke-width="1.2"/>
</g>
<path d="M827.46 433.85 Q829.66 432.85 830.06 429.25 L833.26 429.25 Q833.66 432.85 835.86 433.85 Q831.66 436.05 827.46 433.85 Z" fill="#555" stroke="#111" stroke-width="0.8"/>
<ellipse cx="831.66" cy="429.25" rx="1.7" ry="0.8" fill="#eee" stroke="#111" stroke-width="0.6"/>
<g class="ns" transform="matrix(0.4184 0.1941 -0.5182 0.1545 1041.57 326.9)">
<circle cx="207.9" cy="517.3" r="18.5" fill="#f4f4f4" stroke="#222" stroke-width="1.1"/>
<circle cx="207.9" cy="517.3" r="13.32" fill="none" stroke="#222" stroke-width="0.9"/>
<circle cx="207.9" cy="517.3" r="8.33" fill="#777" stroke="#111" stroke-width="1.2"/>
</g>
<path d="M856.29 447.22 Q858.49 446.22 858.89 442.62 L862.09 442.62 Q862.49 446.22 864.69 447.22 Q860.49 449.42 856.29 447.22 Z" fill="#555" stroke="#111" stroke-width="0.8"/>
<ellipse cx="860.49" cy="442.62" rx="1.7" ry="0.8" fill="#eee" stroke="#111" stroke-width="0.6"/>
<g class="ns" transform="matrix(0.4184 0.1941 -0.5182 0.1545 1041.57 326.9)">
<circle cx="276.7" cy="517.3" r="13" fill="#f4f4f4" stroke="#222" stroke-width="1.1"/>
<circle cx="276.7" cy="517.3" r="9.36" fill="none" stroke="#222" stroke-width="0.9"/>
<circle cx="276.7" cy="517.3" r="5.85" fill="#777" stroke="#111" stroke-width="1.2"/>
</g>
<path d="M885.08 460.58 Q887.28 459.58 887.68 455.98 L890.88 455.98 Q891.28 459.58 893.48 460.58 Q889.28 462.78 885.08 460.58 Z" fill="#555" stroke="#111" stroke-width="0.8"/>
<ellipse cx="889.28" cy="455.98" rx="1.7" ry="0.8" fill="#eee" stroke="#111" stroke-width="0.6"/>
<path d="M864.29 417.68 L866.88 418.88 L866.88 414.88 L864.29 413.68 Z" fill="#f0f0f0" stroke="#1a1a1a" stroke-width="0.7"/>
<path d="M875.12 416.42 L866.88 418.88 L866.88 414.88 L875.12 412.42 Z" fill="#f0f0f0" stroke="#1a1a1a" stroke-width="0.7"/>
<path d="M872.53 411.22 L875.12 412.42 L866.88 414.88 L864.29 413.68 Z" fill="#fff" stroke="#1a1a1a" stroke-width="0.85"/>
<path d="M880.19 425.05 L882.78 426.25 L882.78 422.25 L880.19 421.05 Z" fill="#f0f0f0" stroke="#1a1a1a" stroke-width="0.7"/>
<path d="M891.02 423.8 L882.78 426.25 L882.78 422.25 L891.02 419.8 Z" fill="#f0f0f0" stroke="#1a1a1a" stroke-width="0.7"/>
<path d="M888.42 418.59 L891.02 419.8 L882.78 422.25 L880.19 421.05 Z" fill="#fff" stroke="#1a1a1a" stroke-width="0.85"/>
<path d="M893.11 431.05 L895.71 432.25 L895.71 428.25 L893.11 427.05 Z" fill="#f0f0f0" stroke="#1a1a1a" stroke-width="0.7"/>
<path d="M903.95 429.8 L895.71 432.25 L895.71 428.25 L903.95 425.8 Z" fill="#f0f0f0" stroke="#1a1a1a" stroke-width="0.7"/>
<path d="M901.35 424.59 L903.95 425.8 L895.71 428.25 L893.11 427.05 Z" fill="#fff" stroke="#1a1a1a" stroke-width="0.85"/>
<path d="M909.01 438.42 L911.61 439.63 L911.61 435.63 L909.01 434.42 Z" fill="#f0f0f0" stroke="#1a1a1a" stroke-width="0.7"/>
<path d="M919.85 437.17 L911.61 439.63 L911.61 435.63 L919.85 433.17 Z" fill="#f0f0f0" stroke="#1a1a1a" stroke-width="0.7"/>
<path d="M917.25 431.97 L919.85 433.17 L911.61 435.63 L909.01 434.42 Z" fill="#fff" stroke="#1a1a1a" stroke-width="0.85"/>
<path d="M921.9 444.4 L924.49 445.61 L924.49 441.61 L921.9 440.4 Z" fill="#f0f0f0" stroke="#1a1a1a" stroke-width="0.7"/>
<path d="M932.73 443.15 L924.49 445.61 L924.49 441.61 L932.73 439.15 Z" fill="#f0f0f0" stroke="#1a1a1a" stroke-width="0.7"/>
<path d="M930.14 437.95 L932.73 439.15 L924.49 441.61 L921.9 440.4 Z" fill="#fff" stroke="#1a1a1a" stroke-width="0.85"/>
<path d="M937.8 451.78 L940.39 452.98 L940.39 448.98 L937.8 447.78 Z" fill="#f0f0f0" stroke="#1a1a1a" stroke-width="0.7"/>
<path d="M948.63 450.53 L940.39 452.98 L940.39 448.98 L948.63 446.53 Z" fill="#f0f0f0" stroke="#1a1a1a" stroke-width="0.7"/>
<path d="M946.04 445.32 L948.63 446.53 L940.39 448.98 L937.8 447.78 Z" fill="#fff" stroke="#1a1a1a" stroke-width="0.85"/>
<path d="M857.74 415.86 L863.81 418.68 L863.81 414.68 L857.74 411.86 Z" fill="#f0f0f0" stroke="#1a1a1a" stroke-width="0.7"/>
<path d="M867.02 417.72 L863.81 418.68 L863.81 414.68 L867.02 413.72 Z" fill="#f0f0f0" stroke="#1a1a1a" stroke-width="0.7"/>
<path d="M860.96 410.91 L867.02 413.72 L863.81 414.68 L857.74 411.86 Z" fill="#fff" stroke="#1a1a1a" stroke-width="0.85"/>
<path d="M879.88 426.13 L885.94 428.95 L885.94 424.95 L879.88 422.13 Z" fill="#f0f0f0" stroke="#1a1a1a" stroke-width="0.7"/>
<path d="M889.16 427.99 L885.94 428.95 L885.94 424.95 L889.16 423.99 Z" fill="#f0f0f0" stroke="#1a1a1a" stroke-width="0.7"/>
<path d="M883.09 421.17 L889.16 423.99 L885.94 424.95 L879.88 422.13 Z" fill="#fff" stroke="#1a1a1a" stroke-width="0.85"/>
<path d="M886.61 429.26 L892.68 432.07 L892.68 428.07 L886.61 425.26 Z" fill="#f0f0f0" stroke="#1a1a1a" stroke-width="0.7"/>
<path d="M895.89 431.11 L892.68 432.07 L892.68 428.07 L895.89 427.11 Z" fill="#f0f0f0" stroke="#1a1a1a" stroke-width="0.7"/>
<path d="M889.83 424.3 L895.89 427.11 L892.68 428.07 L886.61 425.26 Z" fill="#fff" stroke="#1a1a1a" stroke-width="0.85"/>
<path d="M908.75 439.52 L914.81 442.34 L914.81 438.34 L908.75 435.52 Z" fill="#f0f0f0" stroke="#1a1a1a" stroke-width="0.7"/>
<path d="M918.03 441.38 L914.81 442.34 L914.81 438.34 L918.03 437.38 Z" fill="#f0f0f0" stroke="#1a1a1a" stroke-width="0.7"/>
<path d="M911.96 434.57 L918.03 437.38 L914.81 438.34 L908.75 435.52 Z" fill="#fff" stroke="#1a1a1a" stroke-width="0.85"/>
<path d="M915.48 442.65 L921.55 445.46 L921.55 441.46 L915.48 438.65 Z" fill="#f0f0f0" stroke="#1a1a1a" stroke-width="0.7"/>
<path d="M924.76 444.51 L921.55 445.46 L921.55 441.46 L924.76 440.51 Z" fill="#f0f0f0" stroke="#1a1a1a" stroke-width="0.7"/>
<path d="M918.69 437.69 L924.76 440.51 L921.55 441.46 L915.48 438.65 Z" fill="#fff" stroke="#1a1a1a" stroke-width="0.85"/>
<path d="M937.62 452.92 L943.68 455.73 L943.68 451.73 L937.62 448.92 Z" fill="#f0f0f0" stroke="#1a1a1a" stroke-width="0.7"/>
<path d="M946.89 454.77 L943.68 455.73 L943.68 451.73 L946.89 450.77 Z" fill="#f0f0f0" stroke="#1a1a1a" stroke-width="0.7"/>
<path d="M940.83 447.96 L946.89 450.77 L943.68 451.73 L937.62 448.92 Z" fill="#fff" stroke="#1a1a1a" stroke-width="0.85"/>
<path d="M867.42 422.8 L870.01 424 L870.01 420 L867.42 418.8 Z" fill="#f0f0f0" stroke="#1a1a1a" stroke-width="0.7"/>
<path d="M883.07 420.11 L870.01 424 L870.01 420 L883.07 416.11 Z" fill="#f0f0f0" stroke="#1a1a1a" stroke-width="0.7"/>
<path d="M880.48 414.91 L883.07 416.11 L870.01 420 L867.42 418.8 Z" fill="#fff" stroke="#1a1a1a" stroke-width="0.85"/>
<path d="M896.24 436.17 L898.84 437.38 L898.84 433.38 L896.24 432.17 Z" fill="#f0f0f0" stroke="#1a1a1a" stroke-width="0.7"/>
<path d="M911.9 433.48 L898.84 437.38 L898.84 433.38 L911.9 429.48 Z" fill="#f0f0f0" stroke="#1a1a1a" stroke-width="0.7"/>
<path d="M909.3 428.28 L911.9 429.48 L898.84 433.38 L896.24 432.17 Z" fill="#fff" stroke="#1a1a1a" stroke-width="0.85"/>
<path d="M925.03 449.53 L927.62 450.73 L927.62 446.73 L925.03 445.53 Z" fill="#f0f0f0" stroke="#1a1a1a" stroke-width="0.7"/>
<path d="M940.68 446.84 L927.62 450.73 L927.62 446.73 L940.68 442.84 Z" fill="#f0f0f0" stroke="#1a1a1a" stroke-width="0.7"/>
<path d="M938.09 441.63 L940.68 442.84 L927.62 446.73 L925.03 445.53 Z" fill="#fff" stroke="#1a1a1a" stroke-width="0.85"/>
<path d="M848.78 418.54 L859.61 423.56 L859.61 419.56 L848.78 414.54 Z" fill="#f0f0f0" stroke="#1a1a1a" stroke-width="0.7"/>
<path d="M862.83 422.61 L859.61 423.56 L859.61 419.56 L862.83 418.61 Z" fill="#f0f0f0" stroke="#1a1a1a" stroke-width="0.7"/>
<path d="M851.99 413.58 L862.83 418.61 L859.61 419.56 L848.78 414.54 Z" fill="#fff" stroke="#1a1a1a" stroke-width="0.85"/>
<path d="M866.31 426.67 L876.98 431.62 L876.98 427.62 L866.31 422.67 Z" fill="#f0f0f0" stroke="#1a1a1a" stroke-width="0.7"/>
<path d="M880.19 430.66 L876.98 431.62 L876.98 427.62 L880.19 426.66 Z" fill="#f0f0f0" stroke="#1a1a1a" stroke-width="0.7"/>
<path d="M869.52 421.71 L880.19 426.66 L876.98 427.62 L866.31 422.67 Z" fill="#fff" stroke="#1a1a1a" stroke-width="0.85"/>
<path d="M877.65 431.93 L888.44 436.94 L888.44 432.94 L877.65 427.93 Z" fill="#f0f0f0" stroke="#1a1a1a" stroke-width="0.7"/>
<path d="M891.65 435.98 L888.44 436.94 L888.44 432.94 L891.65 431.98 Z" fill="#f0f0f0" stroke="#1a1a1a" stroke-width="0.7"/>
<path d="M880.86 426.97 L891.65 431.98 L888.44 432.94 L877.65 427.93 Z" fill="#fff" stroke="#1a1a1a" stroke-width="0.85"/>
<path d="M895.14 440.04 L905.85 445.01 L905.85 441.01 L895.14 436.04 Z" fill="#f0f0f0" stroke="#1a1a1a" stroke-width="0.7"/>
<path d="M909.06 444.05 L905.85 445.01 L905.85 441.01 L909.06 440.05 Z" fill="#f0f0f0" stroke="#1a1a1a" stroke-width="0.7"/>
<path d="M898.35 435.08 L909.06 440.05 L905.85 441.01 L895.14 436.04 Z" fill="#fff" stroke="#1a1a1a" stroke-width="0.85"/>
<path d="M906.52 445.32 L917.23 450.29 L917.23 446.29 L906.52 441.32 Z" fill="#f0f0f0" stroke="#1a1a1a" stroke-width="0.7"/>
<path d="M920.44 449.33 L917.23 450.29 L917.23 446.29 L920.44 445.33 Z" fill="#f0f0f0" stroke="#1a1a1a" stroke-width="0.7"/>
<path d="M909.73 440.36 L920.44 445.33 L917.23 446.29 L906.52 441.32 Z" fill="#fff" stroke="#1a1a1a" stroke-width="0.85"/>
<path d="M923.92 453.4 L934.72 458.4 L934.72 454.4 L923.92 449.4 Z" fill="#f0f0f0" stroke="#1a1a1a" stroke-width="0.7"/>
<path d="M937.93 457.45 L934.72 458.4 L934.72 454.4 L937.93 453.45 Z" fill="#f0f0f0" stroke="#1a1a1a" stroke-width="0.7"/>
<path d="M927.14 448.44 L937.93 453.45 L934.72 454.4 L923.92 449.4 Z" fill="#fff" stroke="#1a1a1a" stroke-width="0.85"/>
<path d="M839.81 421.21 L845.88 424.02 L845.88 420.02 L839.81 417.21 Z" fill="#f0f0f0" stroke="#1a1a1a" stroke-width="0.7"/>
<path d="M849.09 423.07 L845.88 424.02 L845.88 420.02 L849.09 419.07 Z" fill="#f0f0f0" stroke="#1a1a1a" stroke-width="0.7"/>
<path d="M843.03 416.25 L849.09 419.07 L845.88 420.02 L839.81 417.21 Z" fill="#fff" stroke="#1a1a1a" stroke-width="0.85"/>
<path d="M861.95 431.48 L868.01 434.29 L868.01 430.29 L861.95 427.48 Z" fill="#f0f0f0" stroke="#1a1a1a" stroke-width="0.7"/>
<path d="M871.23 433.33 L868.01 434.29 L868.01 430.29 L871.23 429.33 Z" fill="#f0f0f0" stroke="#1a1a1a" stroke-width="0.7"/>
<path d="M865.16 426.52 L871.23 429.33 L868.01 430.29 L861.95 427.48 Z" fill="#fff" stroke="#1a1a1a" stroke-width="0.85"/>
<path d="M868.68 434.6 L874.75 437.42 L874.75 433.42 L868.68 430.6 Z" fill="#f0f0f0" stroke="#1a1a1a" stroke-width="0.7"/>
<path d="M877.96 436.46 L874.75 437.42 L874.75 433.42 L877.96 432.46 Z" fill="#f0f0f0" stroke="#1a1a1a" stroke-width="0.7"/>
<path d="M871.9 429.64 L877.96 432.46 L874.75 433.42 L868.68 430.6 Z" fill="#fff" stroke="#1a1a1a" stroke-width="0.85"/>
<path d="M890.82 444.87 L896.88 447.68 L896.88 443.68 L890.82 440.87 Z" fill="#f0f0f0" stroke="#1a1a1a" stroke-width="0.7"/>
<path d="M900.1 446.73 L896.88 447.68 L896.88 443.68 L900.1 442.73 Z" fill="#f0f0f0" stroke="#1a1a1a" stroke-width="0.7"/>
<path d="M894.03 439.91 L900.1 442.73 L896.88 443.68 L890.82 440.87 Z" fill="#fff" stroke="#1a1a1a" stroke-width="0.85"/>
<path d="M897.55 448 L903.62 450.81 L903.62 446.81 L897.55 444 Z" fill="#f0f0f0" stroke="#1a1a1a" stroke-width="0.7"/>
<path d="M906.83 449.85 L903.62 450.81 L903.62 446.81 L906.83 445.85 Z" fill="#f0f0f0" stroke="#1a1a1a" stroke-width="0.7"/>
<path d="M900.77 443.04 L906.83 445.85 L903.62 446.81 L897.55 444 Z" fill="#fff" stroke="#1a1a1a" stroke-width="0.85"/>
<path d="M919.69 458.26 L925.75 461.08 L925.75 457.08 L919.69 454.26 Z" fill="#f0f0f0" stroke="#1a1a1a" stroke-width="0.7"/>
<path d="M928.97 460.12 L925.75 461.08 L925.75 457.08 L928.97 456.12 Z" fill="#f0f0f0" stroke="#1a1a1a" stroke-width="0.7"/>
<path d="M922.9 453.31 L928.97 456.12 L925.75 457.08 L919.69 454.26 Z" fill="#fff" stroke="#1a1a1a" stroke-width="0.85"/>
<path d="M832.45 423.4 L860.65 436.49 L860.65 434.29 L832.45 421.2 Z" fill="#f0f0f0" stroke="#1a1a1a" stroke-width="0.7"/>
<path d="M863.45 435.65 L860.65 436.49 L860.65 434.29 L863.45 433.45 Z" fill="#f0f0f0" stroke="#1a1a1a" stroke-width="0.7"/>
<path d="M835.25 420.37 L863.45 433.45 L860.65 434.29 L832.45 421.2 Z" fill="#fff" stroke="#1a1a1a" stroke-width="0.85"/>
<path d="M861.32 436.8 L889.52 449.88 L889.52 447.68 L861.32 434.6 Z" fill="#f0f0f0" stroke="#1a1a1a" stroke-width="0.7"/>
<path d="M892.32 449.04 L889.52 449.88 L889.52 447.68 L892.32 446.84 Z" fill="#f0f0f0" stroke="#1a1a1a" stroke-width="0.7"/>
<path d="M864.12 433.76 L892.32 446.84 L889.52 447.68 L861.32 434.6 Z" fill="#fff" stroke="#1a1a1a" stroke-width="0.85"/>
<path d="M890.19 450.19 L918.39 463.27 L918.39 461.07 L890.19 447.99 Z" fill="#f0f0f0" stroke="#1a1a1a" stroke-width="0.7"/>
<path d="M921.19 462.44 L918.39 463.27 L918.39 461.07 L921.19 460.24 Z" fill="#f0f0f0" stroke="#1a1a1a" stroke-width="0.7"/>
<path d="M892.99 447.15 L921.19 460.24 L918.39 461.07 L890.19 447.99 Z" fill="#fff" stroke="#1a1a1a" stroke-width="0.85"/>
<path d="M831.64 427.41 L834.23 428.61 L834.23 424.61 L831.64 423.41 Z" fill="#f0f0f0" stroke="#1a1a1a" stroke-width="0.7"/>
<path d="M848.48 424.36 L834.23 428.61 L834.23 424.61 L848.48 420.36 Z" fill="#f0f0f0" stroke="#1a1a1a" stroke-width="0.7"/>
<path d="M845.89 419.16 L848.48 420.36 L834.23 424.61 L831.64 423.41 Z" fill="#fff" stroke="#1a1a1a" stroke-width="0.85"/>
<path d="M847.54 434.78 L850.13 435.99 L850.13 431.99 L847.54 430.78 Z" fill="#f0f0f0" stroke="#1a1a1a" stroke-width="0.7"/>
<path d="M864.38 431.74 L850.13 435.99 L850.13 431.99 L864.38 427.74 Z" fill="#f0f0f0" stroke="#1a1a1a" stroke-width="0.7"/>
<path d="M861.79 426.54 L864.38 427.74 L850.13 431.99 L847.54 430.78 Z" fill="#fff" stroke="#1a1a1a" stroke-width="0.85"/>
<path d="M860.47 440.78 L863.06 441.99 L863.06 437.99 L860.47 436.78 Z" fill="#f0f0f0" stroke="#1a1a1a" stroke-width="0.7"/>
<path d="M877.31 437.74 L863.06 441.99 L863.06 437.99 L877.31 433.74 Z" fill="#f0f0f0" stroke="#1a1a1a" stroke-width="0.7"/>
<path d="M874.72 432.53 L877.31 433.74 L863.06 437.99 L860.47 436.78 Z" fill="#fff" stroke="#1a1a1a" stroke-width="0.85"/>
<path d="M876.37 448.16 L878.96 449.36 L878.96 445.36 L876.37 444.16 Z" fill="#f0f0f0" stroke="#1a1a1a" stroke-width="0.7"/>
<path d="M893.21 445.11 L878.96 449.36 L878.96 445.36 L893.21 441.11 Z" fill="#f0f0f0" stroke="#1a1a1a" stroke-width="0.7"/>
<path d="M890.62 439.91 L893.21 441.11 L878.96 445.36 L876.37 444.16 Z" fill="#fff" stroke="#1a1a1a" stroke-width="0.85"/>
<path d="M889.25 454.14 L891.85 455.34 L891.85 451.34 L889.25 450.14 Z" fill="#f0f0f0" stroke="#1a1a1a" stroke-width="0.7"/>
<path d="M906.1 451.09 L891.85 455.34 L891.85 451.34 L906.1 447.09 Z" fill="#f0f0f0" stroke="#1a1a1a" stroke-width="0.7"/>
<path d="M903.5 445.89 L906.1 447.09 L891.85 451.34 L889.25 450.14 Z" fill="#fff" stroke="#1a1a1a" stroke-width="0.85"/>
<path d="M905.15 461.51 L907.75 462.72 L907.75 458.72 L905.15 457.51 Z" fill="#f0f0f0" stroke="#1a1a1a" stroke-width="0.7"/>
<path d="M922 458.47 L907.75 462.72 L907.75 458.72 L922 454.47 Z" fill="#f0f0f0" stroke="#1a1a1a" stroke-width="0.7"/>
<path d="M919.4 453.26 L922 454.47 L907.75 458.72 L905.15 457.51 Z" fill="#fff" stroke="#1a1a1a" stroke-width="0.85"/>
<path d="M824.84 425.67 L830.9 428.49 L830.9 424.49 L824.84 421.67 Z" fill="#f0f0f0" stroke="#1a1a1a" stroke-width="0.7"/>
<path d="M834.12 427.53 L830.9 428.49 L830.9 424.49 L834.12 423.53 Z" fill="#f0f0f0" stroke="#1a1a1a" stroke-width="0.7"/>
<path d="M828.05 420.72 L834.12 423.53 L830.9 424.49 L824.84 421.67 Z" fill="#fff" stroke="#1a1a1a" stroke-width="0.85"/>
<path d="M846.97 435.94 L853.04 438.76 L853.04 434.76 L846.97 431.94 Z" fill="#f0f0f0" stroke="#1a1a1a" stroke-width="0.7"/>
<path d="M856.25 437.8 L853.04 438.76 L853.04 434.76 L856.25 433.8 Z" fill="#f0f0f0" stroke="#1a1a1a" stroke-width="0.7"/>
<path d="M850.18 430.98 L856.25 433.8 L853.04 434.76 L846.97 431.94 Z" fill="#fff" stroke="#1a1a1a" stroke-width="0.85"/>
<path d="M853.71 439.07 L859.77 441.88 L859.77 437.88 L853.71 435.07 Z" fill="#f0f0f0" stroke="#1a1a1a" stroke-width="0.7"/>
<path d="M862.99 440.92 L859.77 441.88 L859.77 437.88 L862.99 436.92 Z" fill="#f0f0f0" stroke="#1a1a1a" stroke-width="0.7"/>
<path d="M856.92 434.11 L862.99 436.92 L859.77 437.88 L853.71 435.07 Z" fill="#fff" stroke="#1a1a1a" stroke-width="0.85"/>
<path d="M875.84 449.34 L881.91 452.15 L881.91 448.15 L875.84 445.34 Z" fill="#f0f0f0" stroke="#1a1a1a" stroke-width="0.7"/>
<path d="M885.12 451.19 L881.91 452.15 L881.91 448.15 L885.12 447.19 Z" fill="#f0f0f0" stroke="#1a1a1a" stroke-width="0.7"/>
<path d="M879.05 444.38 L885.12 447.19 L881.91 448.15 L875.84 445.34 Z" fill="#fff" stroke="#1a1a1a" stroke-width="0.85"/>
<path d="M882.58 452.46 L888.64 455.27 L888.64 451.27 L882.58 448.46 Z" fill="#f0f0f0" stroke="#1a1a1a" stroke-width="0.7"/>
<path d="M891.86 454.32 L888.64 455.27 L888.64 451.27 L891.86 450.32 Z" fill="#f0f0f0" stroke="#1a1a1a" stroke-width="0.7"/>
<path d="M885.79 447.5 L891.86 450.32 L888.64 451.27 L882.58 448.46 Z" fill="#fff" stroke="#1a1a1a" stroke-width="0.85"/>
<path d="M904.71 462.73 L910.78 465.54 L910.78 461.54 L904.71 458.73 Z" fill="#f0f0f0" stroke="#1a1a1a" stroke-width="0.7"/>
<path d="M913.99 464.58 L910.78 465.54 L910.78 461.54 L913.99 460.58 Z" fill="#f0f0f0" stroke="#1a1a1a" stroke-width="0.7"/>
<path d="M907.92 457.77 L913.99 460.58 L910.78 461.54 L904.71 458.73 Z" fill="#fff" stroke="#1a1a1a" stroke-width="0.85"/>
<path d="M834.51 432.61 L837.1 433.81 L837.1 429.81 L834.51 428.61 Z" fill="#f0f0f0" stroke="#1a1a1a" stroke-width="0.7"/>
<path d="M861.72 426.48 L837.1 433.81 L837.1 429.81 L861.72 422.48 Z" fill="#f0f0f0" stroke="#1a1a1a" stroke-width="0.7"/>
<path d="M859.13 421.27 L861.72 422.48 L837.1 429.81 L834.51 428.61 Z" fill="#fff" stroke="#1a1a1a" stroke-width="0.85"/>
<path d="M863.34 445.98 L865.93 447.19 L865.93 443.19 L863.34 441.98 Z" fill="#f0f0f0" stroke="#1a1a1a" stroke-width="0.7"/>
<path d="M890.55 439.85 L865.93 447.19 L865.93 443.19 L890.55 435.85 Z" fill="#f0f0f0" stroke="#1a1a1a" stroke-width="0.7"/>
<path d="M887.95 434.65 L890.55 435.85 L865.93 443.19 L863.34 441.98 Z" fill="#fff" stroke="#1a1a1a" stroke-width="0.85"/>
<path d="M892.12 459.34 L894.72 460.54 L894.72 456.54 L892.12 455.34 Z" fill="#f0f0f0" stroke="#1a1a1a" stroke-width="0.7"/>
<path d="M919.33 453.2 L894.72 460.54 L894.72 456.54 L919.33 449.2 Z" fill="#f0f0f0" stroke="#1a1a1a" stroke-width="0.7"/>
<path d="M916.74 448 L919.33 449.2 L894.72 456.54 L892.12 455.34 Z" fill="#fff" stroke="#1a1a1a" stroke-width="0.85"/>
<path d="M815.87 428.35 L826.71 433.37 L826.71 429.37 L815.87 424.35 Z" fill="#f0f0f0" stroke="#1a1a1a" stroke-width="0.7"/>
<path d="M829.92 432.42 L826.71 433.37 L826.71 429.37 L829.92 428.42 Z" fill="#f0f0f0" stroke="#1a1a1a" stroke-width="0.7"/>
<path d="M819.08 423.39 L829.92 428.42 L826.71 429.37 L815.87 424.35 Z" fill="#fff" stroke="#1a1a1a" stroke-width="0.85"/>
<path d="M833.4 436.48 L844.07 441.43 L844.07 437.43 L833.4 432.48 Z" fill="#f0f0f0" stroke="#1a1a1a" stroke-width="0.7"/>
<path d="M847.29 440.47 L844.07 441.43 L844.07 437.43 L847.29 436.47 Z" fill="#f0f0f0" stroke="#1a1a1a" stroke-width="0.7"/>
<path d="M836.62 431.52 L847.29 436.47 L844.07 437.43 L833.4 432.48 Z" fill="#fff" stroke="#1a1a1a" stroke-width="0.85"/>
<path d="M844.74 441.74 L855.54 446.75 L855.54 442.75 L844.74 437.74 Z" fill="#f0f0f0" stroke="#1a1a1a" stroke-width="0.7"/>
<path d="M858.75 445.79 L855.54 446.75 L855.54 442.75 L858.75 441.79 Z" fill="#f0f0f0" stroke="#1a1a1a" stroke-width="0.7"/>
<path d="M847.95 436.78 L858.75 441.79 L855.54 442.75 L844.74 437.74 Z" fill="#fff" stroke="#1a1a1a" stroke-width="0.85"/>
<path d="M862.23 449.85 L872.94 454.82 L872.94 450.82 L862.23 445.85 Z" fill="#f0f0f0" stroke="#1a1a1a" stroke-width="0.7"/>
<path d="M876.15 453.86 L872.94 454.82 L872.94 450.82 L876.15 449.86 Z" fill="#f0f0f0" stroke="#1a1a1a" stroke-width="0.7"/>
<path d="M865.44 444.9 L876.15 449.86 L872.94 450.82 L862.23 445.85 Z" fill="#fff" stroke="#1a1a1a" stroke-width="0.85"/>
<path d="M873.61 455.13 L884.32 460.1 L884.32 456.1 L873.61 451.13 Z" fill="#f0f0f0" stroke="#1a1a1a" stroke-width="0.7"/>
<path d="M887.54 459.14 L884.32 460.1 L884.32 456.1 L887.54 455.14 Z" fill="#f0f0f0" stroke="#1a1a1a" stroke-width="0.7"/>
<path d="M876.82 450.18 L887.54 455.14 L884.32 456.1 L873.61 451.13 Z" fill="#fff" stroke="#1a1a1a" stroke-width="0.85"/>
<path d="M891.02 463.21 L901.81 468.22 L901.81 464.22 L891.02 459.21 Z" fill="#f0f0f0" stroke="#1a1a1a" stroke-width="0.7"/>
<path d="M905.02 467.26 L901.81 468.22 L901.81 464.22 L905.02 463.26 Z" fill="#f0f0f0" stroke="#1a1a1a" stroke-width="0.7"/>
<path d="M894.23 458.25 L905.02 463.26 L901.81 464.22 L891.02 459.21 Z" fill="#fff" stroke="#1a1a1a" stroke-width="0.85"/>
<path d="M806.91 431.02 L812.97 433.83 L812.97 429.83 L806.91 427.02 Z" fill="#f0f0f0" stroke="#1a1a1a" stroke-width="0.7"/>
<path d="M816.19 432.88 L812.97 433.83 L812.97 429.83 L816.19 428.88 Z" fill="#f0f0f0" stroke="#1a1a1a" stroke-width="0.7"/>
<path d="M810.12 426.06 L816.19 428.88 L812.97 429.83 L806.91 427.02 Z" fill="#fff" stroke="#1a1a1a" stroke-width="0.85"/>
<path d="M829.04 441.29 L835.11 444.1 L835.11 440.1 L829.04 437.29 Z" fill="#f0f0f0" stroke="#1a1a1a" stroke-width="0.7"/>
<path d="M838.32 443.14 L835.11 444.1 L835.11 440.1 L838.32 439.14 Z" fill="#f0f0f0" stroke="#1a1a1a" stroke-width="0.7"/>
<path d="M832.25 436.33 L838.32 439.14 L835.11 440.1 L829.04 437.29 Z" fill="#fff" stroke="#1a1a1a" stroke-width="0.85"/>
<path d="M835.78 444.41 L841.84 447.23 L841.84 443.23 L835.78 440.41 Z" fill="#f0f0f0" stroke="#1a1a1a" stroke-width="0.7"/>
<path d="M845.06 446.27 L841.84 447.23 L841.84 443.23 L845.06 442.27 Z" fill="#f0f0f0" stroke="#1a1a1a" stroke-width="0.7"/>
<path d="M838.99 439.46 L845.06 442.27 L841.84 443.23 L835.78 440.41 Z" fill="#fff" stroke="#1a1a1a" stroke-width="0.85"/>
<path d="M857.91 454.68 L863.98 457.5 L863.98 453.5 L857.91 450.68 Z" fill="#f0f0f0" stroke="#1a1a1a" stroke-width="0.7"/>
<path d="M867.19 456.54 L863.98 457.5 L863.98 453.5 L867.19 452.54 Z" fill="#f0f0f0" stroke="#1a1a1a" stroke-width="0.7"/>
<path d="M861.12 449.72 L867.19 452.54 L863.98 453.5 L857.91 450.68 Z" fill="#fff" stroke="#1a1a1a" stroke-width="0.85"/>
<path d="M864.65 457.81 L870.71 460.62 L870.71 456.62 L864.65 453.81 Z" fill="#f0f0f0" stroke="#1a1a1a" stroke-width="0.7"/>
<path d="M873.93 459.66 L870.71 460.62 L870.71 456.62 L873.93 455.66 Z" fill="#f0f0f0" stroke="#1a1a1a" stroke-width="0.7"/>
<path d="M867.86 452.85 L873.93 455.66 L870.71 456.62 L864.65 453.81 Z" fill="#fff" stroke="#1a1a1a" stroke-width="0.85"/>
<path d="M886.78 468.07 L892.85 470.89 L892.85 466.89 L886.78 464.07 Z" fill="#f0f0f0" stroke="#1a1a1a" stroke-width="0.7"/>
<path d="M896.06 469.93 L892.85 470.89 L892.85 466.89 L896.06 465.93 Z" fill="#f0f0f0" stroke="#1a1a1a" stroke-width="0.7"/>
<path d="M889.99 463.12 L896.06 465.93 L892.85 466.89 L886.78 464.07 Z" fill="#fff" stroke="#1a1a1a" stroke-width="0.85"/>
<path d="M805.32 435.26 L807.91 436.46 L807.91 432.46 L805.32 431.26 Z" fill="#f0f0f0" stroke="#1a1a1a" stroke-width="0.7"/>
<path d="M816.1 434.02 L807.91 436.46 L807.91 432.46 L816.1 430.02 Z" fill="#f0f0f0" stroke="#1a1a1a" stroke-width="0.7"/>
<path d="M813.5 428.82 L816.1 430.02 L807.91 432.46 L805.32 431.26 Z" fill="#fff" stroke="#1a1a1a" stroke-width="0.85"/>
<path d="M813.26 438.95 L815.86 440.15 L815.86 436.15 L813.26 434.95 Z" fill="#f0f0f0" stroke="#1a1a1a" stroke-width="0.7"/>
<path d="M828.81 436.29 L815.86 440.15 L815.86 436.15 L828.81 432.29 Z" fill="#f0f0f0" stroke="#1a1a1a" stroke-width="0.7"/>
<path d="M826.22 431.08 L828.81 432.29 L815.86 436.15 L813.26 434.95 Z" fill="#fff" stroke="#1a1a1a" stroke-width="0.85"/>
<path d="M821.21 442.63 L823.81 443.84 L823.81 439.84 L821.21 438.63 Z" fill="#f0f0f0" stroke="#1a1a1a" stroke-width="0.7"/>
<path d="M832 441.4 L823.81 443.84 L823.81 439.84 L832 437.4 Z" fill="#f0f0f0" stroke="#1a1a1a" stroke-width="0.7"/>
<path d="M829.4 436.19 L832 437.4 L823.81 439.84 L821.21 438.63 Z" fill="#fff" stroke="#1a1a1a" stroke-width="0.85"/>
<path d="M834.14 448.63 L836.74 449.83 L836.74 445.83 L834.14 444.63 Z" fill="#f0f0f0" stroke="#1a1a1a" stroke-width="0.7"/>
<path d="M844.92 447.39 L836.74 449.83 L836.74 445.83 L844.92 443.39 Z" fill="#f0f0f0" stroke="#1a1a1a" stroke-width="0.7"/>
<path d="M842.33 442.19 L844.92 443.39 L836.74 445.83 L834.14 444.63 Z" fill="#fff" stroke="#1a1a1a" stroke-width="0.85"/>
<path d="M842.09 452.32 L844.69 453.52 L844.69 449.52 L842.09 448.32 Z" fill="#f0f0f0" stroke="#1a1a1a" stroke-width="0.7"/>
<path d="M857.64 449.66 L844.69 453.52 L844.69 449.52 L857.64 445.66 Z" fill="#f0f0f0" stroke="#1a1a1a" stroke-width="0.7"/>
<path d="M855.05 444.46 L857.64 445.66 L844.69 449.52 L842.09 448.32 Z" fill="#fff" stroke="#1a1a1a" stroke-width="0.85"/>
<path d="M850.04 456.01 L852.64 457.21 L852.64 453.21 L850.04 452.01 Z" fill="#f0f0f0" stroke="#1a1a1a" stroke-width="0.7"/>
<path d="M860.82 454.77 L852.64 457.21 L852.64 453.21 L860.82 450.77 Z" fill="#f0f0f0" stroke="#1a1a1a" stroke-width="0.7"/>
<path d="M858.23 449.57 L860.82 450.77 L852.64 453.21 L850.04 452.01 Z" fill="#fff" stroke="#1a1a1a" stroke-width="0.85"/>
<path d="M862.93 461.98 L865.52 463.19 L865.52 459.19 L862.93 457.98 Z" fill="#f0f0f0" stroke="#1a1a1a" stroke-width="0.7"/>
<path d="M873.71 460.75 L865.52 463.19 L865.52 459.19 L873.71 456.75 Z" fill="#f0f0f0" stroke="#1a1a1a" stroke-width="0.7"/>
<path d="M871.12 455.54 L873.71 456.75 L865.52 459.19 L862.93 457.98 Z" fill="#fff" stroke="#1a1a1a" stroke-width="0.85"/>
<path d="M870.88 465.67 L873.47 466.88 L873.47 462.88 L870.88 461.67 Z" fill="#f0f0f0" stroke="#1a1a1a" stroke-width="0.7"/>
<path d="M886.43 463.01 L873.47 466.88 L873.47 462.88 L886.43 459.01 Z" fill="#f0f0f0" stroke="#1a1a1a" stroke-width="0.7"/>
<path d="M883.83 457.81 L886.43 459.01 L873.47 462.88 L870.88 461.67 Z" fill="#fff" stroke="#1a1a1a" stroke-width="0.85"/>
<path d="M878.83 469.36 L881.42 470.56 L881.42 466.56 L878.83 465.36 Z" fill="#f0f0f0" stroke="#1a1a1a" stroke-width="0.7"/>
<path d="M889.61 468.12 L881.42 470.56 L881.42 466.56 L889.61 464.12 Z" fill="#f0f0f0" stroke="#1a1a1a" stroke-width="0.7"/>
<path d="M887.02 462.92 L889.61 464.12 L881.42 466.56 L878.83 465.36 Z" fill="#fff" stroke="#1a1a1a" stroke-width="0.85"/>
<path d="M860.17 422.84 Q862.57 422.04 862.87 417.84 L866.27 417.84 Q866.57 422.04 868.97 422.84 Q864.57 425.44 860.17 422.84 Z" fill="#777" stroke="#111" stroke-width="0.9"/>
<ellipse cx="864.57" cy="417.84" rx="1.8" ry="0.9" fill="#eee" stroke="#111" stroke-width="0.7"/>
<path d="M889 436.21 Q891.4 435.41 891.7 431.21 L895.1 431.21 Q895.4 435.41 897.8 436.21 Q893.4 438.81 889 436.21 Z" fill="#777" stroke="#111" stroke-width="0.9"/>
<ellipse cx="893.4" cy="431.21" rx="1.8" ry="0.9" fill="#eee" stroke="#111" stroke-width="0.7"/>
<path d="M917.78 449.57 Q920.18 448.77 920.48 444.57 L923.88 444.57 Q924.18 448.77 926.58 449.57 Q922.18 452.17 917.78 449.57 Z" fill="#777" stroke="#111" stroke-width="0.9"/>
<ellipse cx="922.18" cy="444.57" rx="1.8" ry="0.9" fill="#eee" stroke="#111" stroke-width="0.7"/>
<path d="M827.26 432.65 Q829.66 431.85 829.96 427.65 L833.36 427.65 Q833.66 431.85 836.06 432.65 Q831.66 435.25 827.26 432.65 Z" fill="#777" stroke="#111" stroke-width="0.9"/>
<ellipse cx="831.66" cy="427.65" rx="1.8" ry="0.9" fill="#eee" stroke="#111" stroke-width="0.7"/>
<path d="M856.09 446.02 Q858.49 445.22 858.79 441.02 L862.19 441.02 Q862.49 445.22 864.89 446.02 Q860.49 448.62 856.09 446.02 Z" fill="#777" stroke="#111" stroke-width="0.9"/>
<ellipse cx="860.49" cy="441.02" rx="1.8" ry="0.9" fill="#eee" stroke="#111" stroke-width="0.7"/>
<path d="M884.88 459.38 Q887.28 458.58 887.58 454.38 L890.98 454.38 Q891.28 458.58 893.68 459.38 Q889.28 461.98 884.88 459.38 Z" fill="#777" stroke="#111" stroke-width="0.9"/>
<ellipse cx="889.28" cy="454.38" rx="1.8" ry="0.9" fill="#eee" stroke="#111" stroke-width="0.7"/>
<line x1="548.2" y1="614.2" x2="1011.7" y2="614.2" stroke="#2a2a2a" stroke-width="1"/>
<line x1="548.2" y1="614.2" x2="548.2" y2="711.4" stroke="#2a2a2a" stroke-width="1"/>
<line x1="650.7" y1="614.2" x2="650.7" y2="711.4" stroke="#2a2a2a" stroke-width="1"/>
<line x1="870.6" y1="614.2" x2="870.6" y2="692.1" stroke="#2a2a2a" stroke-width="1"/>
<line x1="870.6" y1="633.4" x2="1011.7" y2="633.4" stroke="#2a2a2a" stroke-width="1"/>
<line x1="650.7" y1="653.1" x2="1011.7" y2="653.1" stroke="#2a2a2a" stroke-width="1"/>
<line x1="650.7" y1="672.6" x2="1011.7" y2="672.6" stroke="#2a2a2a" stroke-width="1"/>
<line x1="650.7" y1="692.1" x2="1011.7" y2="692.1" stroke="#2a2a2a" stroke-width="1"/>
<line x1="760.5" y1="653.1" x2="760.5" y2="692.1" stroke="#2a2a2a" stroke-width="1"/>
<line x1="967.9" y1="614.2" x2="967.9" y2="633.4" stroke="#2a2a2a" stroke-width="1"/>
<line x1="989.6" y1="614.2" x2="989.6" y2="633.4" stroke="#2a2a2a" stroke-width="1"/>
<line x1="919.1" y1="672.6" x2="919.1" y2="692.1" stroke="#2a2a2a" stroke-width="1"/>
<line x1="967.9" y1="672.6" x2="967.9" y2="692.1" stroke="#2a2a2a" stroke-width="1"/>
<text class="tm" x="653.3" y="620.3" font-size="4.9" font-weight="bold" textLength="67" lengthAdjust="spacingAndGlyphs" stroke="#111" stroke-width="0.22">DESCRIZIONE / DESCRIPTION</text>
<text class="ts" x="705" y="642" font-size="12.6" textLength="102" lengthAdjust="spacingAndGlyphs" stroke="#111" stroke-width="0.3">Cucina Enfasi EQ9F-6</text>
<text class="tm" x="653.3" y="659.3" font-size="4.9" font-weight="bold" textLength="72.36" lengthAdjust="spacingAndGlyphs" stroke="#111" stroke-width="0.22">RIF. CLIENTE/CUSTOMER'S RE.</text>
<text class="ts" x="653.5" y="669.7" font-size="8.4" font-weight="bold" stroke="#111" stroke-width="0.2">-</text>
<text class="tm" x="763" y="659.3" font-size="4.9" font-weight="bold" textLength="77.72" lengthAdjust="spacingAndGlyphs" stroke="#111" stroke-width="0.22">RIF. FORNITORE/SUPPLIER'S RE.</text>
<text class="ts" x="763.2" y="669.7" font-size="8.4" font-weight="bold" stroke="#111" stroke-width="0.2">-</text>
<text class="tm" x="653.3" y="678.6" font-size="4.9" font-weight="bold" textLength="48.24" lengthAdjust="spacingAndGlyphs" stroke="#111" stroke-width="0.22">DISEGNATORE/EDITOR</text>
<text class="tm" x="653.3" y="688.6" font-size="6.9" font-weight="bold" textLength="13.56" lengthAdjust="spacingAndGlyphs" stroke="#111" stroke-width="0.15">Luca</text>
<text class="tm" x="763" y="678.6" font-size="4.9" font-weight="bold" textLength="18.76" lengthAdjust="spacingAndGlyphs" stroke="#111" stroke-width="0.22">APPROV.</text>
<text class="ts" x="763.2" y="689.1" font-size="8.4" font-weight="bold" stroke="#111" stroke-width="0.2">-</text>
<text class="tm" x="872.8" y="620.3" font-size="4.9" font-weight="bold" textLength="29.48" lengthAdjust="spacingAndGlyphs" stroke="#111" stroke-width="0.22">CODICE/CODE</text>
<text class="ts" x="873" y="630.1" font-size="8.4" font-weight="bold" stroke="#111" stroke-width="0.2">-</text>
<text class="tm" x="970.2" y="620.3" font-size="4.9" font-weight="bold" textLength="10.72" lengthAdjust="spacingAndGlyphs" stroke="#111" stroke-width="0.22">REV.</text>
<text class="ts" x="970.4" y="630.1" font-size="8.4" font-weight="bold" stroke="#111" stroke-width="0.2">-</text>
<text class="tm" x="992" y="620.3" font-size="4.9" font-weight="bold" textLength="16.08" lengthAdjust="spacingAndGlyphs" stroke="#111" stroke-width="0.22">NR.PZ.</text>
<text class="ts" x="992.2" y="630.1" font-size="8.4" font-weight="bold" stroke="#111" stroke-width="0.2">-</text>
<text class="tm" x="872.8" y="639.8" font-size="4.9" font-weight="bold" textLength="48.24" lengthAdjust="spacingAndGlyphs" stroke="#111" stroke-width="0.22">MATERIALE/MATERIAL</text>
<text class="ts" x="873" y="649.9" font-size="8.4" font-weight="bold" stroke="#111" stroke-width="0.2">-</text>
<text class="tm" x="872.8" y="659.3" font-size="4.9" font-weight="bold" textLength="50.92" lengthAdjust="spacingAndGlyphs" stroke="#111" stroke-width="0.22">TRATTAMENTO/PROCESS</text>
<text class="ts" x="873" y="669.4" font-size="8.4" font-weight="bold" stroke="#111" stroke-width="0.2">-</text>
<text class="tm" x="872.8" y="678.6" font-size="4.9" font-weight="bold" textLength="24.12" lengthAdjust="spacingAndGlyphs" stroke="#111" stroke-width="0.22">DATA/DATE</text>
<text class="tm" x="872.8" y="688.8" font-size="6.9" font-weight="bold" textLength="33.9" lengthAdjust="spacingAndGlyphs" stroke="#111" stroke-width="0.15">06/05/2022</text>
<text class="tm" x="921.3" y="678.6" font-size="4.9" font-weight="bold" textLength="13.4" lengthAdjust="spacingAndGlyphs" stroke="#111" stroke-width="0.22">SCALA</text>
<text class="tm" x="921.3" y="688.8" font-size="6.9" font-weight="bold" textLength="13.56" lengthAdjust="spacingAndGlyphs" stroke="#111" stroke-width="0.15">1:10</text>
<text class="tm" x="970.2" y="678.6" font-size="4.9" font-weight="bold" textLength="34.84" lengthAdjust="spacingAndGlyphs" stroke="#111" stroke-width="0.22">MASSA/MASS kg</text>
<text class="ts" x="970.4" y="689.3" font-size="8.4" font-weight="bold" stroke="#111" stroke-width="0.2">-</text>
<text class="tm" x="653.3" y="697.9" font-size="4.9" font-weight="bold" textLength="353.19" lengthAdjust="spacingAndGlyphs" stroke="#111" stroke-width="0.2">Proprieta' della STEEL S.p.A. CARPI (MO). Senza formale autorizzazione scritta della stessa il presente disegno non potra'</text>
<text class="tm" x="653.3" y="703.35" font-size="4.9" font-weight="bold" textLength="356.08" lengthAdjust="spacingAndGlyphs" stroke="#111" stroke-width="0.2">essere utilizzata per la costruzione dell'oggetto rappresentato ne' venire divulgato o riprodotto, la proprietaria tutela i</text>
<text class="tm" x="653.3" y="708.8" font-size="4.9" font-weight="bold" textLength="95.53" lengthAdjust="spacingAndGlyphs" stroke="#111" stroke-width="0.2">propri diritti a rigore di legge.</text>
<line x1="592.3" y1="617.9" x2="631.4" y2="656.6" stroke="#222" stroke-width="0.8"/>
<line x1="568.3" y1="641.6" x2="608.4" y2="680.7" stroke="#222" stroke-width="0.8"/>
<path d="M568.4 645 A31.55 31.55 0 0 1 595.5 617.9" fill="none" stroke="#222" stroke-width="0.8"/>
<path d="M631.3 653.5 A31.55 31.55 0 0 1 604.5 680.4" fill="none" stroke="#222" stroke-width="0.8"/>
<path d="M599.6 617.6 L631.4 617.6 L631.4 647.9" fill="none" stroke="#222" stroke-width="0.8"/>
<path d="M599.6 617.6 A31.8 30.3 0 0 1 631.4 647.9" fill="none" stroke="#222" stroke-width="0.8"/>
<path d="M568.3 648.8 L568.3 680.7 L598.6 680.7" fill="none" stroke="#222" stroke-width="0.8"/>
<path d="M568.3 648.8 A30.3 31.9 0 0 0 598.6 680.7" fill="none" stroke="#222" stroke-width="0.8"/>
<text class="ts" x="568" y="699.6" font-size="21" font-weight="bold" style="fill:#fff;stroke:#222;stroke-width:0.8px" textLength="63.6" lengthAdjust="spacingAndGlyphs">steel</text>
<text class="ts" x="567.4" y="710" font-size="10" textLength="64" lengthAdjust="spacingAndGlyphs" stroke="#111" stroke-width="0.45">stile in cucina</text>
</svg>
</body></html>
